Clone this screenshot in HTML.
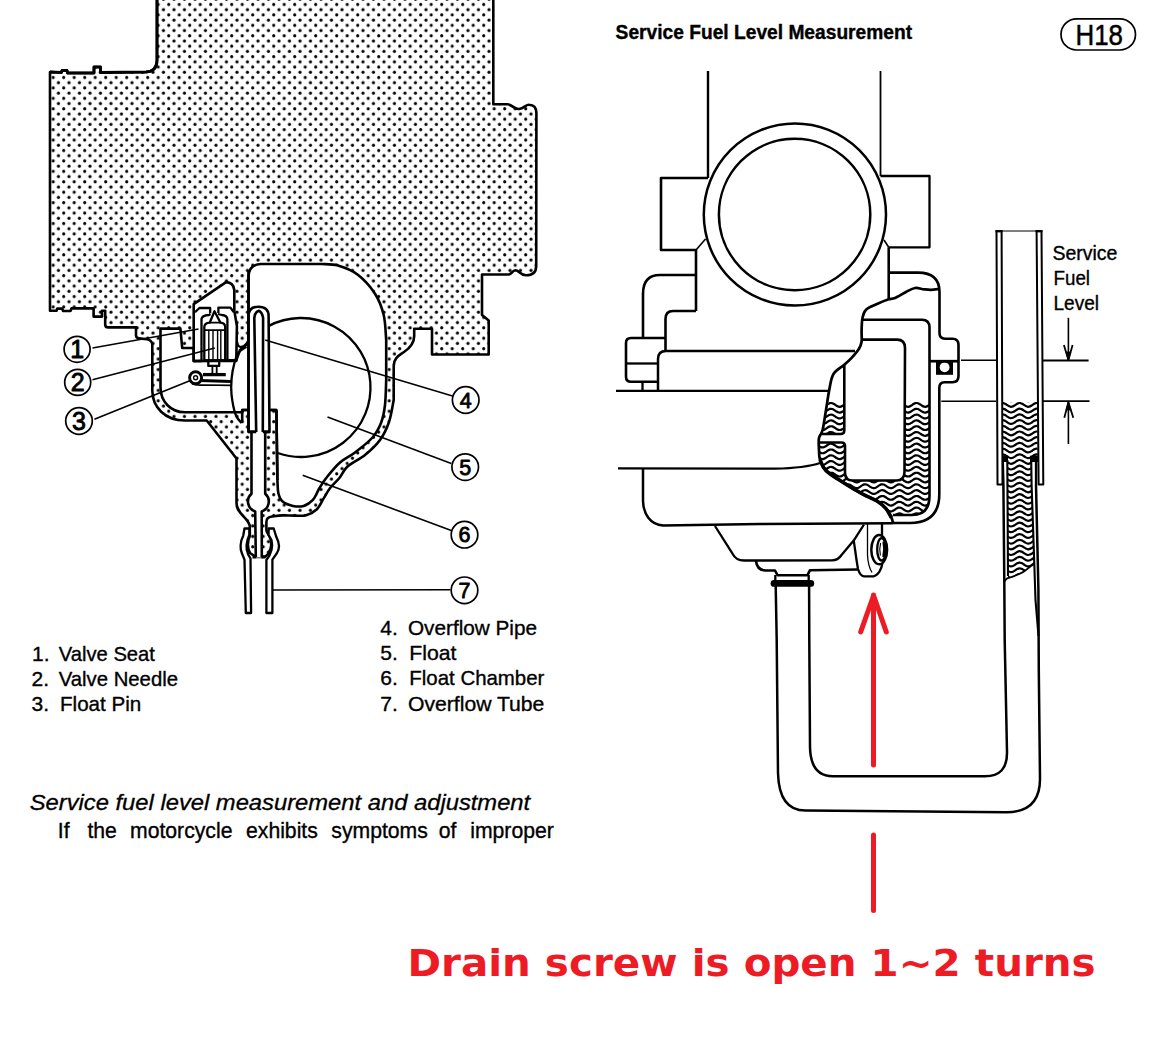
<!DOCTYPE html>
<html><head><meta charset="utf-8"><title>Service Fuel Level Measurement</title>
<style>html,body{margin:0;padding:0;background:#fff;overflow:hidden;}svg{display:block;}text{white-space:pre;}</style>
</head><body>
<svg width="1160" height="1054" viewBox="0 0 1160 1054" stroke-linecap="butt" stroke-linejoin="round">
<defs>
<pattern id="dots" patternUnits="userSpaceOnUse" x="-1.91" y="1.87" width="10.5" height="10.43">
<circle cx="2.62" cy="2.61" r="1.55" fill="#000"/>
<circle cx="7.88" cy="7.82" r="1.55" fill="#000"/>
</pattern>
</defs>
<rect x="0" y="0" width="1160" height="1054" fill="#fff"/>
<g id="leftfig">
<path d="M157,-5 L157,60 Q157,71.5 146,72 L100.5,72.5 L100.5,67 L94,67 L94,73 L67.5,73 L67,70.5 L62,70.5 L61.5,72.5 L50,72 L50,310.8 L56.5,310.8 L57.2,308.6 L62.3,308.6 L63,311 L70.5,311 L71.5,308.4 L93.6,308.4 L93.6,316.6 L102,316.6 L102,310.8 L105.2,310.8 L105.2,324.5 Q105.2,327.4 108,327.4 L136,327.4 L136,335.5 Q136.2,338.3 139,338.4 L147,339.2 Q151.5,340 152.3,344 L152.3,390.6 C152.3,407 165,420.5 185,420.5 L206.7,420.5 L236.5,458.5 L236.5,503 C236.5,514 248,517 249.8,526 L249.8,536 C247,541 247.5,549 250,553 L256,557 L262,557 L265.5,556.5 C270,553 272.5,546 270.5,539 C269,534 266.4,533 266.4,530 L266.4,522 Q266.4,517 272,516.5 C273.72,516.32 278.47,515.55 282.3,515.4C286.13,515.25 291.02,515.63 295,515.6C298.98,515.57 302.55,516.27 306.2,515.2C309.85,514.13 314.02,511.97 316.9,509.2C319.78,506.43 321.3,502.13 323.5,498.6C325.7,495.07 327.45,491.43 330.1,488C332.75,484.57 336.5,481.58 339.4,478C342.3,474.42 343.23,470.33 347.5,466.5C351.77,462.67 359.58,459.42 365,455C370.42,450.58 376,445.5 380,440C384,434.5 386.72,428.67 389,422C391.28,415.33 392.92,403.67 393.7,400L393.7,366 C393.7,358 399,355.5 404,352 C410,348 414.2,343 414.2,336 L414.2,328.7 L432,328.7 L432,354.5 L488.7,354.5 L488.7,320.5 L482,315 L482,274.5 L509,274.5 C511,274.5 512.5,270.5 515.5,270.3 C519,270.2 520,275.3 526,275.3 C532,275.3 536.2,273 536.2,266 L536.4,113 Q536.4,105 529,104.8 C526,104.5 524,108.5 519,109 C514,109.5 512,104.3 507.5,104.3 L493.3,104.3 L493.3,-5 Z" fill="url(#dots)" stroke="#000" stroke-width="2.6" />
<path d="M157,-5 L157,60 Q157,71.5 146,72 L100.5,72.5 L100.5,67 L94,67 L94,73 L67.5,73 L67,70.5 L62,70.5 L61.5,72.5 L50,72" fill="none" stroke="#000" stroke-width="2.9" />
<path d="M248.5,277 Q248.5,264.5 261,264 L322,264 C324.67,264.25 332.08,263.75 338,265.5C343.92,267.25 351.33,269.8 357.5,274.5C363.67,279.2 370.63,286.95 375,293.7C379.37,300.45 381.83,307.28 383.7,315C385.57,322.72 385.78,335.83 386.2,340L386.2,380 C386,384.17 385.83,397.92 385,405C384.17,412.08 383.28,417.08 381.2,422.5C379.12,427.92 376.87,432.5 372.5,437.5C368.13,442.5 360.42,448.33 355,452.5C349.58,456.67 344.67,458.42 340,462.5C335.33,466.58 330.42,472.75 327,477C323.58,481.25 321.85,484.18 319.5,488C317.15,491.82 315.55,496.92 312.9,499.9C310.25,502.88 306.92,504.9 303.6,505.9C300.28,506.9 296.55,506.68 293,505.9C289.45,505.12 284.73,503.3 282.3,501.2C279.87,499.1 279.22,496.83 278.4,493.3C277.58,489.77 277.57,482.22 277.4,480L276.4,410 L242.2,410 L242.2,412.3 L185,412.3 C171,412.3 160.5,402 160.5,387 L160.5,328.6 L180.4,328.6 L182.2,348 L193.7,348 L193.7,361 L236,361 L240,350 L248.5,343 Z" fill="#fff" stroke="#000" stroke-width="2.6" />
<path d="M236.3,340 C236.5,346 240,348.5 244,346 C247,344 248.5,341 248.5,338" fill="none" stroke="#000" stroke-width="2.3" />
<path d="M193.7,361 L193.7,304.1 L226.1,282.1 Q233.5,282.5 234.3,290 L234.3,310.6 L236.9,326 L236.3,360.4 Z" fill="#fff" stroke="#000" stroke-width="2.6" />
<path d="M268.4,326.12 A69.5,69.5 0 1 1 277.76,453" fill="none" stroke="#000" stroke-width="2.3" />
<path d="M246.4,346.9C245.1,347.85 240.6,349.92 238.6,352.6C236.6,355.28 235.57,358.65 234.4,363C233.23,367.35 232.08,373.47 231.6,378.7C231.12,383.93 230.85,388.47 231.5,394.4C232.15,400.33 233.83,409.53 235.5,414.3C237.17,419.07 240.5,421.55 241.5,423" fill="none" stroke="#000" stroke-width="2.3" />
<path d="M195,312.3 L199.4,308 L210.2,308 L210.2,313.2 M218.4,313 L218.4,307.6 L230.4,307.6 L233.9,312.3" fill="none" stroke="#000" stroke-width="2.3" />
<path d="M201.5,361 L201.5,319 Q202,315.5 208.9,315 L210.5,314 M218,314 L221.8,315 Q227,315.5 227.4,319 L227.4,361" fill="none" stroke="#000" stroke-width="2.3" />
<path d="M193.7,361 L201.5,361 M227.4,360.4 L236.3,360.4" fill="none" stroke="#000" stroke-width="2.6" />
<path d="M204.3,360.4 L204.3,327 Q204.5,323 209.7,322.7 L214.5,311.3 L220.5,322.7 Q225,323 225.2,327 L225.2,360.4 Z" fill="#fff" stroke="#000" stroke-width="2.3" />
<path d="M209.7,322.7 L220.5,322.7 M205,330.2 L224.5,330.2" fill="none" stroke="#000" stroke-width="1.8" />
<line x1="208.8" y1="331" x2="208.8" y2="360" stroke="#000" stroke-width="1.4" />
<line x1="213" y1="331" x2="213" y2="360" stroke="#000" stroke-width="1.4" />
<line x1="217.6" y1="331" x2="217.6" y2="360" stroke="#000" stroke-width="1.4" />
<line x1="220.8" y1="331" x2="220.8" y2="360" stroke="#000" stroke-width="1.4" />
<path d="M208.3,360.4 L208.3,365.9 L219.2,365.9 L219.2,360.4 M204.5,360.4 L224.8,360.4" fill="none" stroke="#000" stroke-width="2.3" />
<path d="M212.4,366 L212.4,373 M216.7,366 L216.7,373" fill="none" stroke="#000" stroke-width="1.8" />
<path d="M203,374.6 L225.8,374.6" fill="none" stroke="#000" stroke-width="3.3" />
<circle cx="195.6" cy="377.8" r="6" fill="#fff" stroke="#000" stroke-width="2.9"/>
<circle cx="195.6" cy="377.8" r="2" fill="none" stroke="#000" stroke-width="1.4"/>
<path d="M200.5,380.4 L231,381.4" fill="none" stroke="#000" stroke-width="3" />
<path d="M192,383.8 Q196,385.6 203,385 L231.5,385.4" fill="none" stroke="#000" stroke-width="1.7" />
<rect x="254.5" y="405" width="9" height="28" fill="#fff"/>
<path d="M248.5,431.9 L248.5,316 Q248.5,306.7 258.4,306.7 Q268.6,306.7 268.6,316 L269.5,431.9 L262.8,431.9 L263.1,318 Q262,312 258.7,310.8 Q255,312 254.3,318 L256.2,431.9 Z" fill="#fff" stroke="#000" stroke-width="2.6" />
<line x1="248.5" y1="270" x2="248.5" y2="432" stroke="#000" stroke-width="2.6" />
<path d="M242.2,422.5 L242.2,410 L248.5,410 M269.5,410 L276.4,410" fill="none" stroke="#000" stroke-width="2.6" />
<path d="M251.5,431.9 L251.5,493.7 A10.4,10.4 0 0 0 255.2,511.4 L255.8,557.5 L261.8,557.5 L261.7,511.4 A10.4,10.4 0 0 0 265.2,493.7 L265.2,431.9 Z" fill="#fff" stroke="none" stroke-width="0" />
<path d="M251.5,431.9 L251.5,493.7 A10.4,10.4 0 0 0 255.2,511.4 L255.8,557" fill="none" stroke="#000" stroke-width="2.6" />
<path d="M265.2,431.9 L265.2,493.7 A10.4,10.4 0 0 1 261.7,511.4 L261.8,557" fill="none" stroke="#000" stroke-width="2.6" />
<path d="M252.5,557 L256.2,557 M261.4,557 L265.5,557" fill="none" stroke="#000" stroke-width="3" />
<path d="M248.5,431.9 L256.2,431.9 M262.8,431.9 L269.5,431.9" fill="none" stroke="#000" stroke-width="2.6" />
<path d="M276.4,410 L277.4,480" fill="none" stroke="#000" stroke-width="2.6" />
<path d="M249.3,528.5 L244.5,528.5 L243.2,535.8 C240,542 240,549 241.8,553 L244.5,559.7 L245.8,613 L251.1,613 L250.5,558.4 C246,552 246,545 247.5,540 L249.3,535 Z" fill="#fff" stroke="#000" stroke-width="2.3" />
<path d="M268.6,528.5 L273.7,528.5 L276.4,537.1 C279.5,543 279.5,549 277,553 L272.4,559.7 L272.4,613 L266.4,613 L266.4,560 C272,553 273,546 271.5,540 L268.6,535 Z" fill="#fff" stroke="#000" stroke-width="2.3" />
<line x1="92.5" y1="348" x2="198.5" y2="329" stroke="#000" stroke-width="1.6" />
<line x1="92.5" y1="379.7" x2="214.8" y2="348" stroke="#000" stroke-width="1.6" />
<line x1="94.4" y1="419.2" x2="190.4" y2="380.6" stroke="#000" stroke-width="1.6" />
<line x1="265.2" y1="340" x2="452.5" y2="396" stroke="#000" stroke-width="1.6" />
<line x1="327.5" y1="417" x2="451.3" y2="463.5" stroke="#000" stroke-width="1.6" />
<line x1="302.7" y1="475.3" x2="451.3" y2="530.5" stroke="#000" stroke-width="1.6" />
<line x1="273" y1="590" x2="450.4" y2="589.8" stroke="#000" stroke-width="1.6" />
<circle cx="77.1" cy="349.3" r="13" fill="#fff" stroke="#000" stroke-width="1.7"/>
<text x="77.1" y="358.25" font-family="'Liberation Sans', sans-serif" font-size="25" font-weight="normal" font-style="normal" fill="#000" text-anchor="middle" stroke="#000" stroke-width="0.9">1</text>
<circle cx="77.7" cy="382.4" r="13" fill="#fff" stroke="#000" stroke-width="1.7"/>
<text x="77.7" y="391.35" font-family="'Liberation Sans', sans-serif" font-size="25" font-weight="normal" font-style="normal" fill="#000" text-anchor="middle" stroke="#000" stroke-width="0.9">2</text>
<circle cx="79" cy="421" r="13.3" fill="#fff" stroke="#000" stroke-width="1.7"/>
<text x="79" y="429.95" font-family="'Liberation Sans', sans-serif" font-size="25" font-weight="normal" font-style="normal" fill="#000" text-anchor="middle" stroke="#000" stroke-width="0.9">3</text>
<circle cx="465.7" cy="400" r="13.3" fill="#fff" stroke="#000" stroke-width="1.7"/>
<text x="465.7" y="407.7" font-family="'Liberation Sans', sans-serif" font-size="21.5" font-weight="normal" font-style="normal" fill="#000" text-anchor="middle" stroke="#000" stroke-width="0.8">4</text>
<circle cx="465.2" cy="467.1" r="13.3" fill="#fff" stroke="#000" stroke-width="1.7"/>
<text x="465.2" y="474.8" font-family="'Liberation Sans', sans-serif" font-size="21.5" font-weight="normal" font-style="normal" fill="#000" text-anchor="middle" stroke="#000" stroke-width="0.8">5</text>
<circle cx="464.5" cy="534.7" r="13.3" fill="#fff" stroke="#000" stroke-width="1.7"/>
<text x="464.5" y="542.4" font-family="'Liberation Sans', sans-serif" font-size="21.5" font-weight="normal" font-style="normal" fill="#000" text-anchor="middle" stroke="#000" stroke-width="0.8">6</text>
<circle cx="464.5" cy="590.3" r="13.3" fill="#fff" stroke="#000" stroke-width="1.7"/>
<text x="464.5" y="598" font-family="'Liberation Sans', sans-serif" font-size="21.5" font-weight="normal" font-style="normal" fill="#000" text-anchor="middle" stroke="#000" stroke-width="0.8">7</text>
</g>
<g id="rightfig">
<line x1="708" y1="71" x2="708" y2="178" stroke="#000" stroke-width="2.4" />
<line x1="880.5" y1="71" x2="880.5" y2="176" stroke="#000" stroke-width="1.8" />
<path d="M708,178 L661,178 L661,250 L696,250 L696,311" fill="none" stroke="#000" stroke-width="2.6" />
<path d="M696,250 L705.5,239" fill="none" stroke="#000" stroke-width="1.6" />
<path d="M880.5,176 L929.5,176 L929.5,247.3 L888.7,247.3" fill="none" stroke="#000" stroke-width="2.3" />
<path d="M888.7,247.3 L884,240" fill="none" stroke="#000" stroke-width="1.6" />
<circle cx="794.9" cy="214.5" r="91.1" fill="none" stroke="#000" stroke-width="2.5"/>
<circle cx="794.6" cy="214.5" r="75.7" fill="none" stroke="#000" stroke-width="2.5"/>
<path d="M696,275 L660,275 Q643,275 643,294 L643,338" fill="none" stroke="#000" stroke-width="2.6" />
<path d="M696,311 L673,311 Q665.5,311 665.5,319 L665.5,351" fill="none" stroke="#000" stroke-width="2.6" />
<path d="M665,338 L631,338 Q626,338 626,343 L626,376.7 Q626,381.7 631,381.7 L658,381.7" fill="none" stroke="#000" stroke-width="2.6" />
<line x1="626" y1="363.5" x2="658" y2="363.5" stroke="#000" stroke-width="2.3" />
<path d="M855,351 L666,351 Q658,351 658,359 L658,390.5" fill="none" stroke="#000" stroke-width="2.5" />
<line x1="616" y1="390.9" x2="828" y2="390.9" stroke="#000" stroke-width="2.3" />
<line x1="642.5" y1="381" x2="642.5" y2="390.5" stroke="#000" stroke-width="2.3" />
<path d="M888.7,247.3 L888.7,299" fill="none" stroke="#000" stroke-width="2.6" />
<path d="M888.7,272.6 L918,272.6 Q939.5,272.6 939.5,292 L939.5,333 Q939.5,338.7 945,338.7 L952.5,338.7 Q958.5,338.7 958.5,345 L958.5,376 Q958.5,382.2 952.5,382.2 L944.5,382.2 Q939.3,382.2 939.3,388 L939.3,494 Q939.3,523 910,523 L893,523" fill="none" stroke="#000" stroke-width="2.6" />
<path d="M862,319.7 L922,319.7 Q929.5,319.7 929.5,327.5 L929.5,496 Q929.5,515 912,515 L893,515" fill="none" stroke="#000" stroke-width="2.6" />
<path d="M862,339.6 L897,339.6 Q905,339.6 905,348 L904.5,472 Q904.5,480.5 896.5,480.5 L853,480.5 Q845,480.5 845,472.4 L845,446 Q845,442.5 841.5,442.5 L820,442.5" fill="none" stroke="#000" stroke-width="2.6" />
<path d="M820,434 L840.5,434 Q844.3,434 844.3,430.5 L844.3,365" fill="none" stroke="#000" stroke-width="2.6" />
<clipPath id="cfl"><path d="M828.5,402 L844.3,402 L844.3,434 L819,434 L819,442.5 L845,442.5 L845,472 Q845,480.5 853,480.5 L896.5,480.5 Q904.5,480.5 904.5,472 L904.7,402 L929.5,402 L929.5,496 Q929.5,515 912,515 L893,515 L891.4,517.7 L886,508.6 L877,501 L862.5,494 L844,483 L826,470.6 L820,459.7 L819,438 L822.6,430 Z"/></clipPath>
<g clip-path="url(#cfl)" fill="none" stroke="#000" stroke-width="2.2">
<path d="M813,391.48C813.36,391.5 814.43,391.38 815.14,391.57C815.85,391.77 816.56,392.24 817.28,392.66C817.99,393.09 818.7,393.71 819.41,394.11C820.13,394.52 820.84,394.93 821.55,395.08C822.26,395.22 822.98,395.18 823.69,394.99C824.4,394.79 825.11,394.32 825.83,393.9C826.54,393.47 827.25,392.85 827.96,392.45C828.68,392.04 829.39,391.63 830.1,391.48C830.81,391.34 831.53,391.38 832.24,391.57C832.95,391.77 833.66,392.24 834.38,392.66C835.09,393.09 835.8,393.71 836.51,394.11C837.23,394.52 837.94,394.93 838.65,395.08C839.36,395.22 840.08,395.18 840.79,394.99C841.5,394.79 842.21,394.32 842.93,393.9C843.64,393.47 844.35,392.85 845.06,392.45C845.78,392.04 846.49,391.63 847.2,391.48C847.91,391.34 848.63,391.38 849.34,391.57C850.05,391.77 850.76,392.24 851.48,392.66C852.19,393.09 852.9,393.71 853.61,394.11C854.33,394.52 855.04,394.93 855.75,395.08C856.46,395.22 857.18,395.18 857.89,394.99C858.6,394.79 859.31,394.32 860.03,393.9C860.74,393.47 861.45,392.85 862.16,392.45C862.88,392.04 863.59,391.63 864.3,391.48C865.01,391.34 865.73,391.38 866.44,391.57C867.15,391.77 867.86,392.24 868.58,392.66C869.29,393.09 870,393.71 870.71,394.11C871.43,394.52 872.14,394.93 872.85,395.08C873.56,395.22 874.28,395.18 874.99,394.99C875.7,394.79 876.41,394.32 877.13,393.9C877.84,393.47 878.55,392.85 879.26,392.45C879.98,392.04 880.69,391.63 881.4,391.48C882.11,391.34 882.83,391.38 883.54,391.57C884.25,391.77 884.96,392.24 885.68,392.66C886.39,393.09 887.1,393.71 887.81,394.11C888.53,394.52 889.24,394.93 889.95,395.08C890.66,395.22 891.38,395.18 892.09,394.99C892.8,394.79 893.51,394.32 894.23,393.9C894.94,393.47 895.65,392.85 896.36,392.45C897.08,392.04 897.79,391.63 898.5,391.48C899.21,391.34 899.93,391.38 900.64,391.57C901.35,391.77 902.06,392.24 902.78,392.66C903.49,393.09 904.2,393.71 904.91,394.11C905.63,394.52 906.34,394.93 907.05,395.08C907.76,395.22 908.48,395.18 909.19,394.99C909.9,394.79 910.61,394.32 911.33,393.9C912.04,393.47 912.75,392.85 913.46,392.45C914.18,392.04 914.89,391.63 915.6,391.48C916.31,391.34 917.03,391.38 917.74,391.57C918.45,391.77 919.16,392.24 919.88,392.66C920.59,393.09 921.3,393.71 922.01,394.11C922.73,394.52 923.44,394.93 924.15,395.08C924.86,395.22 925.58,395.18 926.29,394.99C927,394.79 927.71,394.32 928.43,393.9C929.14,393.47 929.85,392.85 930.56,392.45C931.28,392.04 932.34,391.64 932.7,391.48"/>
<path d="M813,397.29C813.36,397.31 814.43,397.19 815.14,397.38C815.85,397.58 816.56,398.05 817.28,398.47C817.99,398.9 818.7,399.52 819.41,399.92C820.13,400.33 820.84,400.74 821.55,400.89C822.26,401.03 822.98,400.99 823.69,400.8C824.4,400.6 825.11,400.13 825.83,399.71C826.54,399.28 827.25,398.66 827.96,398.26C828.68,397.85 829.39,397.44 830.1,397.29C830.81,397.15 831.53,397.19 832.24,397.38C832.95,397.58 833.66,398.05 834.38,398.47C835.09,398.9 835.8,399.52 836.51,399.92C837.23,400.33 837.94,400.74 838.65,400.89C839.36,401.03 840.08,400.99 840.79,400.8C841.5,400.6 842.21,400.13 842.93,399.71C843.64,399.28 844.35,398.66 845.06,398.26C845.78,397.85 846.49,397.44 847.2,397.29C847.91,397.15 848.63,397.19 849.34,397.38C850.05,397.58 850.76,398.05 851.48,398.47C852.19,398.9 852.9,399.52 853.61,399.92C854.33,400.33 855.04,400.74 855.75,400.89C856.46,401.03 857.18,400.99 857.89,400.8C858.6,400.6 859.31,400.13 860.03,399.71C860.74,399.28 861.45,398.66 862.16,398.26C862.88,397.85 863.59,397.44 864.3,397.29C865.01,397.15 865.73,397.19 866.44,397.38C867.15,397.58 867.86,398.05 868.58,398.47C869.29,398.9 870,399.52 870.71,399.92C871.43,400.33 872.14,400.74 872.85,400.89C873.56,401.03 874.28,400.99 874.99,400.8C875.7,400.6 876.41,400.13 877.13,399.71C877.84,399.28 878.55,398.66 879.26,398.26C879.98,397.85 880.69,397.44 881.4,397.29C882.11,397.15 882.83,397.19 883.54,397.38C884.25,397.58 884.96,398.05 885.68,398.47C886.39,398.9 887.1,399.52 887.81,399.92C888.53,400.33 889.24,400.74 889.95,400.89C890.66,401.03 891.38,400.99 892.09,400.8C892.8,400.6 893.51,400.13 894.23,399.71C894.94,399.28 895.65,398.66 896.36,398.26C897.08,397.85 897.79,397.44 898.5,397.29C899.21,397.15 899.93,397.19 900.64,397.38C901.35,397.58 902.06,398.05 902.78,398.47C903.49,398.9 904.2,399.52 904.91,399.92C905.63,400.33 906.34,400.74 907.05,400.89C907.76,401.03 908.48,400.99 909.19,400.8C909.9,400.6 910.61,400.13 911.33,399.71C912.04,399.28 912.75,398.66 913.46,398.26C914.18,397.85 914.89,397.44 915.6,397.29C916.31,397.15 917.03,397.19 917.74,397.38C918.45,397.58 919.16,398.05 919.88,398.47C920.59,398.9 921.3,399.52 922.01,399.92C922.73,400.33 923.44,400.74 924.15,400.89C924.86,401.03 925.58,400.99 926.29,400.8C927,400.6 927.71,400.13 928.43,399.71C929.14,399.28 929.85,398.66 930.56,398.26C931.28,397.85 932.34,397.45 932.7,397.29"/>
<path d="M813,403.1C813.36,403.12 814.43,403 815.14,403.19C815.85,403.39 816.56,403.86 817.28,404.28C817.99,404.71 818.7,405.33 819.41,405.73C820.13,406.14 820.84,406.55 821.55,406.7C822.26,406.84 822.98,406.8 823.69,406.61C824.4,406.41 825.11,405.94 825.83,405.52C826.54,405.09 827.25,404.47 827.96,404.07C828.68,403.66 829.39,403.25 830.1,403.1C830.81,402.96 831.53,403 832.24,403.19C832.95,403.39 833.66,403.86 834.38,404.28C835.09,404.71 835.8,405.33 836.51,405.73C837.23,406.14 837.94,406.55 838.65,406.7C839.36,406.84 840.08,406.8 840.79,406.61C841.5,406.41 842.21,405.94 842.93,405.52C843.64,405.09 844.35,404.47 845.06,404.07C845.78,403.66 846.49,403.25 847.2,403.1C847.91,402.96 848.63,403 849.34,403.19C850.05,403.39 850.76,403.86 851.48,404.28C852.19,404.71 852.9,405.33 853.61,405.73C854.33,406.14 855.04,406.55 855.75,406.7C856.46,406.84 857.18,406.8 857.89,406.61C858.6,406.41 859.31,405.94 860.03,405.52C860.74,405.09 861.45,404.47 862.16,404.07C862.88,403.66 863.59,403.25 864.3,403.1C865.01,402.96 865.73,403 866.44,403.19C867.15,403.39 867.86,403.86 868.58,404.28C869.29,404.71 870,405.33 870.71,405.73C871.43,406.14 872.14,406.55 872.85,406.7C873.56,406.84 874.28,406.8 874.99,406.61C875.7,406.41 876.41,405.94 877.13,405.52C877.84,405.09 878.55,404.47 879.26,404.07C879.98,403.66 880.69,403.25 881.4,403.1C882.11,402.96 882.83,403 883.54,403.19C884.25,403.39 884.96,403.86 885.68,404.28C886.39,404.71 887.1,405.33 887.81,405.73C888.53,406.14 889.24,406.55 889.95,406.7C890.66,406.84 891.38,406.8 892.09,406.61C892.8,406.41 893.51,405.94 894.23,405.52C894.94,405.09 895.65,404.47 896.36,404.07C897.08,403.66 897.79,403.25 898.5,403.1C899.21,402.96 899.93,403 900.64,403.19C901.35,403.39 902.06,403.86 902.78,404.28C903.49,404.71 904.2,405.33 904.91,405.73C905.63,406.14 906.34,406.55 907.05,406.7C907.76,406.84 908.48,406.8 909.19,406.61C909.9,406.41 910.61,405.94 911.33,405.52C912.04,405.09 912.75,404.47 913.46,404.07C914.18,403.66 914.89,403.25 915.6,403.1C916.31,402.96 917.03,403 917.74,403.19C918.45,403.39 919.16,403.86 919.88,404.28C920.59,404.71 921.3,405.33 922.01,405.73C922.73,406.14 923.44,406.55 924.15,406.7C924.86,406.84 925.58,406.8 926.29,406.61C927,406.41 927.71,405.94 928.43,405.52C929.14,405.09 929.85,404.47 930.56,404.07C931.28,403.66 932.34,403.26 932.7,403.1"/>
<path d="M813,408.91C813.36,408.93 814.43,408.81 815.14,409C815.85,409.2 816.56,409.67 817.28,410.09C817.99,410.52 818.7,411.14 819.41,411.54C820.13,411.95 820.84,412.36 821.55,412.51C822.26,412.65 822.98,412.61 823.69,412.42C824.4,412.22 825.11,411.75 825.83,411.33C826.54,410.9 827.25,410.28 827.96,409.88C828.68,409.47 829.39,409.06 830.1,408.91C830.81,408.77 831.53,408.81 832.24,409C832.95,409.2 833.66,409.67 834.38,410.09C835.09,410.52 835.8,411.14 836.51,411.54C837.23,411.95 837.94,412.36 838.65,412.51C839.36,412.65 840.08,412.61 840.79,412.42C841.5,412.22 842.21,411.75 842.93,411.33C843.64,410.9 844.35,410.28 845.06,409.88C845.78,409.47 846.49,409.06 847.2,408.91C847.91,408.77 848.63,408.81 849.34,409C850.05,409.2 850.76,409.67 851.48,410.09C852.19,410.52 852.9,411.14 853.61,411.54C854.33,411.95 855.04,412.36 855.75,412.51C856.46,412.65 857.18,412.61 857.89,412.42C858.6,412.22 859.31,411.75 860.03,411.33C860.74,410.9 861.45,410.28 862.16,409.88C862.88,409.47 863.59,409.06 864.3,408.91C865.01,408.77 865.73,408.81 866.44,409C867.15,409.2 867.86,409.67 868.58,410.09C869.29,410.52 870,411.14 870.71,411.54C871.43,411.95 872.14,412.36 872.85,412.51C873.56,412.65 874.28,412.61 874.99,412.42C875.7,412.22 876.41,411.75 877.13,411.33C877.84,410.9 878.55,410.28 879.26,409.88C879.98,409.47 880.69,409.06 881.4,408.91C882.11,408.77 882.83,408.81 883.54,409C884.25,409.2 884.96,409.67 885.68,410.09C886.39,410.52 887.1,411.14 887.81,411.54C888.53,411.95 889.24,412.36 889.95,412.51C890.66,412.65 891.38,412.61 892.09,412.42C892.8,412.22 893.51,411.75 894.23,411.33C894.94,410.9 895.65,410.28 896.36,409.88C897.08,409.47 897.79,409.06 898.5,408.91C899.21,408.77 899.93,408.81 900.64,409C901.35,409.2 902.06,409.67 902.78,410.09C903.49,410.52 904.2,411.14 904.91,411.54C905.63,411.95 906.34,412.36 907.05,412.51C907.76,412.65 908.48,412.61 909.19,412.42C909.9,412.22 910.61,411.75 911.33,411.33C912.04,410.9 912.75,410.28 913.46,409.88C914.18,409.47 914.89,409.06 915.6,408.91C916.31,408.77 917.03,408.81 917.74,409C918.45,409.2 919.16,409.67 919.88,410.09C920.59,410.52 921.3,411.14 922.01,411.54C922.73,411.95 923.44,412.36 924.15,412.51C924.86,412.65 925.58,412.61 926.29,412.42C927,412.22 927.71,411.75 928.43,411.33C929.14,410.9 929.85,410.28 930.56,409.88C931.28,409.47 932.34,409.07 932.7,408.91"/>
<path d="M813,414.72C813.36,414.74 814.43,414.62 815.14,414.81C815.85,415.01 816.56,415.48 817.28,415.9C817.99,416.33 818.7,416.95 819.41,417.35C820.13,417.76 820.84,418.17 821.55,418.32C822.26,418.46 822.98,418.42 823.69,418.23C824.4,418.03 825.11,417.56 825.83,417.14C826.54,416.71 827.25,416.09 827.96,415.69C828.68,415.28 829.39,414.87 830.1,414.72C830.81,414.58 831.53,414.62 832.24,414.81C832.95,415.01 833.66,415.48 834.38,415.9C835.09,416.33 835.8,416.95 836.51,417.35C837.23,417.76 837.94,418.17 838.65,418.32C839.36,418.46 840.08,418.42 840.79,418.23C841.5,418.03 842.21,417.56 842.93,417.14C843.64,416.71 844.35,416.09 845.06,415.69C845.78,415.28 846.49,414.87 847.2,414.72C847.91,414.58 848.63,414.62 849.34,414.81C850.05,415.01 850.76,415.48 851.48,415.9C852.19,416.33 852.9,416.95 853.61,417.35C854.33,417.76 855.04,418.17 855.75,418.32C856.46,418.46 857.18,418.42 857.89,418.23C858.6,418.03 859.31,417.56 860.03,417.14C860.74,416.71 861.45,416.09 862.16,415.69C862.88,415.28 863.59,414.87 864.3,414.72C865.01,414.58 865.73,414.62 866.44,414.81C867.15,415.01 867.86,415.48 868.58,415.9C869.29,416.33 870,416.95 870.71,417.35C871.43,417.76 872.14,418.17 872.85,418.32C873.56,418.46 874.28,418.42 874.99,418.23C875.7,418.03 876.41,417.56 877.13,417.14C877.84,416.71 878.55,416.09 879.26,415.69C879.98,415.28 880.69,414.87 881.4,414.72C882.11,414.58 882.83,414.62 883.54,414.81C884.25,415.01 884.96,415.48 885.68,415.9C886.39,416.33 887.1,416.95 887.81,417.35C888.53,417.76 889.24,418.17 889.95,418.32C890.66,418.46 891.38,418.42 892.09,418.23C892.8,418.03 893.51,417.56 894.23,417.14C894.94,416.71 895.65,416.09 896.36,415.69C897.08,415.28 897.79,414.87 898.5,414.72C899.21,414.58 899.93,414.62 900.64,414.81C901.35,415.01 902.06,415.48 902.78,415.9C903.49,416.33 904.2,416.95 904.91,417.35C905.63,417.76 906.34,418.17 907.05,418.32C907.76,418.46 908.48,418.42 909.19,418.23C909.9,418.03 910.61,417.56 911.33,417.14C912.04,416.71 912.75,416.09 913.46,415.69C914.18,415.28 914.89,414.87 915.6,414.72C916.31,414.58 917.03,414.62 917.74,414.81C918.45,415.01 919.16,415.48 919.88,415.9C920.59,416.33 921.3,416.95 922.01,417.35C922.73,417.76 923.44,418.17 924.15,418.32C924.86,418.46 925.58,418.42 926.29,418.23C927,418.03 927.71,417.56 928.43,417.14C929.14,416.71 929.85,416.09 930.56,415.69C931.28,415.28 932.34,414.88 932.7,414.72"/>
<path d="M813,420.53C813.36,420.55 814.43,420.43 815.14,420.62C815.85,420.82 816.56,421.29 817.28,421.71C817.99,422.14 818.7,422.76 819.41,423.16C820.13,423.57 820.84,423.98 821.55,424.13C822.26,424.27 822.98,424.23 823.69,424.04C824.4,423.84 825.11,423.37 825.83,422.95C826.54,422.52 827.25,421.9 827.96,421.5C828.68,421.09 829.39,420.68 830.1,420.53C830.81,420.39 831.53,420.43 832.24,420.62C832.95,420.82 833.66,421.29 834.38,421.71C835.09,422.14 835.8,422.76 836.51,423.16C837.23,423.57 837.94,423.98 838.65,424.13C839.36,424.27 840.08,424.23 840.79,424.04C841.5,423.84 842.21,423.37 842.93,422.95C843.64,422.52 844.35,421.9 845.06,421.5C845.78,421.09 846.49,420.68 847.2,420.53C847.91,420.39 848.63,420.43 849.34,420.62C850.05,420.82 850.76,421.29 851.48,421.71C852.19,422.14 852.9,422.76 853.61,423.16C854.33,423.57 855.04,423.98 855.75,424.13C856.46,424.27 857.18,424.23 857.89,424.04C858.6,423.84 859.31,423.37 860.03,422.95C860.74,422.52 861.45,421.9 862.16,421.5C862.88,421.09 863.59,420.68 864.3,420.53C865.01,420.39 865.73,420.43 866.44,420.62C867.15,420.82 867.86,421.29 868.58,421.71C869.29,422.14 870,422.76 870.71,423.16C871.43,423.57 872.14,423.98 872.85,424.13C873.56,424.27 874.28,424.23 874.99,424.04C875.7,423.84 876.41,423.37 877.13,422.95C877.84,422.52 878.55,421.9 879.26,421.5C879.98,421.09 880.69,420.68 881.4,420.53C882.11,420.39 882.83,420.43 883.54,420.62C884.25,420.82 884.96,421.29 885.68,421.71C886.39,422.14 887.1,422.76 887.81,423.16C888.53,423.57 889.24,423.98 889.95,424.13C890.66,424.27 891.38,424.23 892.09,424.04C892.8,423.84 893.51,423.37 894.23,422.95C894.94,422.52 895.65,421.9 896.36,421.5C897.08,421.09 897.79,420.68 898.5,420.53C899.21,420.39 899.93,420.43 900.64,420.62C901.35,420.82 902.06,421.29 902.78,421.71C903.49,422.14 904.2,422.76 904.91,423.16C905.63,423.57 906.34,423.98 907.05,424.13C907.76,424.27 908.48,424.23 909.19,424.04C909.9,423.84 910.61,423.37 911.33,422.95C912.04,422.52 912.75,421.9 913.46,421.5C914.18,421.09 914.89,420.68 915.6,420.53C916.31,420.39 917.03,420.43 917.74,420.62C918.45,420.82 919.16,421.29 919.88,421.71C920.59,422.14 921.3,422.76 922.01,423.16C922.73,423.57 923.44,423.98 924.15,424.13C924.86,424.27 925.58,424.23 926.29,424.04C927,423.84 927.71,423.37 928.43,422.95C929.14,422.52 929.85,421.9 930.56,421.5C931.28,421.09 932.34,420.69 932.7,420.53"/>
<path d="M813,426.34C813.36,426.36 814.43,426.24 815.14,426.43C815.85,426.63 816.56,427.1 817.28,427.52C817.99,427.95 818.7,428.57 819.41,428.97C820.13,429.38 820.84,429.79 821.55,429.94C822.26,430.08 822.98,430.04 823.69,429.85C824.4,429.65 825.11,429.18 825.83,428.76C826.54,428.33 827.25,427.71 827.96,427.31C828.68,426.9 829.39,426.49 830.1,426.34C830.81,426.2 831.53,426.24 832.24,426.43C832.95,426.63 833.66,427.1 834.38,427.52C835.09,427.95 835.8,428.57 836.51,428.97C837.23,429.38 837.94,429.79 838.65,429.94C839.36,430.08 840.08,430.04 840.79,429.85C841.5,429.65 842.21,429.18 842.93,428.76C843.64,428.33 844.35,427.71 845.06,427.31C845.78,426.9 846.49,426.49 847.2,426.34C847.91,426.2 848.63,426.24 849.34,426.43C850.05,426.63 850.76,427.1 851.48,427.52C852.19,427.95 852.9,428.57 853.61,428.97C854.33,429.38 855.04,429.79 855.75,429.94C856.46,430.08 857.18,430.04 857.89,429.85C858.6,429.65 859.31,429.18 860.03,428.76C860.74,428.33 861.45,427.71 862.16,427.31C862.88,426.9 863.59,426.49 864.3,426.34C865.01,426.2 865.73,426.24 866.44,426.43C867.15,426.63 867.86,427.1 868.58,427.52C869.29,427.95 870,428.57 870.71,428.97C871.43,429.38 872.14,429.79 872.85,429.94C873.56,430.08 874.28,430.04 874.99,429.85C875.7,429.65 876.41,429.18 877.13,428.76C877.84,428.33 878.55,427.71 879.26,427.31C879.98,426.9 880.69,426.49 881.4,426.34C882.11,426.2 882.83,426.24 883.54,426.43C884.25,426.63 884.96,427.1 885.68,427.52C886.39,427.95 887.1,428.57 887.81,428.97C888.53,429.38 889.24,429.79 889.95,429.94C890.66,430.08 891.38,430.04 892.09,429.85C892.8,429.65 893.51,429.18 894.23,428.76C894.94,428.33 895.65,427.71 896.36,427.31C897.08,426.9 897.79,426.49 898.5,426.34C899.21,426.2 899.93,426.24 900.64,426.43C901.35,426.63 902.06,427.1 902.78,427.52C903.49,427.95 904.2,428.57 904.91,428.97C905.63,429.38 906.34,429.79 907.05,429.94C907.76,430.08 908.48,430.04 909.19,429.85C909.9,429.65 910.61,429.18 911.33,428.76C912.04,428.33 912.75,427.71 913.46,427.31C914.18,426.9 914.89,426.49 915.6,426.34C916.31,426.2 917.03,426.24 917.74,426.43C918.45,426.63 919.16,427.1 919.88,427.52C920.59,427.95 921.3,428.57 922.01,428.97C922.73,429.38 923.44,429.79 924.15,429.94C924.86,430.08 925.58,430.04 926.29,429.85C927,429.65 927.71,429.18 928.43,428.76C929.14,428.33 929.85,427.71 930.56,427.31C931.28,426.9 932.34,426.5 932.7,426.34"/>
<path d="M813,432.15C813.36,432.17 814.43,432.05 815.14,432.24C815.85,432.44 816.56,432.91 817.28,433.33C817.99,433.76 818.7,434.38 819.41,434.78C820.13,435.19 820.84,435.6 821.55,435.75C822.26,435.89 822.98,435.85 823.69,435.66C824.4,435.46 825.11,434.99 825.83,434.57C826.54,434.14 827.25,433.52 827.96,433.12C828.68,432.71 829.39,432.3 830.1,432.15C830.81,432.01 831.53,432.05 832.24,432.24C832.95,432.44 833.66,432.91 834.38,433.33C835.09,433.76 835.8,434.38 836.51,434.78C837.23,435.19 837.94,435.6 838.65,435.75C839.36,435.89 840.08,435.85 840.79,435.66C841.5,435.46 842.21,434.99 842.93,434.57C843.64,434.14 844.35,433.52 845.06,433.12C845.78,432.71 846.49,432.3 847.2,432.15C847.91,432.01 848.63,432.05 849.34,432.24C850.05,432.44 850.76,432.91 851.48,433.33C852.19,433.76 852.9,434.38 853.61,434.78C854.33,435.19 855.04,435.6 855.75,435.75C856.46,435.89 857.18,435.85 857.89,435.66C858.6,435.46 859.31,434.99 860.03,434.57C860.74,434.14 861.45,433.52 862.16,433.12C862.88,432.71 863.59,432.3 864.3,432.15C865.01,432.01 865.73,432.05 866.44,432.24C867.15,432.44 867.86,432.91 868.58,433.33C869.29,433.76 870,434.38 870.71,434.78C871.43,435.19 872.14,435.6 872.85,435.75C873.56,435.89 874.28,435.85 874.99,435.66C875.7,435.46 876.41,434.99 877.13,434.57C877.84,434.14 878.55,433.52 879.26,433.12C879.98,432.71 880.69,432.3 881.4,432.15C882.11,432.01 882.83,432.05 883.54,432.24C884.25,432.44 884.96,432.91 885.68,433.33C886.39,433.76 887.1,434.38 887.81,434.78C888.53,435.19 889.24,435.6 889.95,435.75C890.66,435.89 891.38,435.85 892.09,435.66C892.8,435.46 893.51,434.99 894.23,434.57C894.94,434.14 895.65,433.52 896.36,433.12C897.08,432.71 897.79,432.3 898.5,432.15C899.21,432.01 899.93,432.05 900.64,432.24C901.35,432.44 902.06,432.91 902.78,433.33C903.49,433.76 904.2,434.38 904.91,434.78C905.63,435.19 906.34,435.6 907.05,435.75C907.76,435.89 908.48,435.85 909.19,435.66C909.9,435.46 910.61,434.99 911.33,434.57C912.04,434.14 912.75,433.52 913.46,433.12C914.18,432.71 914.89,432.3 915.6,432.15C916.31,432.01 917.03,432.05 917.74,432.24C918.45,432.44 919.16,432.91 919.88,433.33C920.59,433.76 921.3,434.38 922.01,434.78C922.73,435.19 923.44,435.6 924.15,435.75C924.86,435.89 925.58,435.85 926.29,435.66C927,435.46 927.71,434.99 928.43,434.57C929.14,434.14 929.85,433.52 930.56,433.12C931.28,432.71 932.34,432.31 932.7,432.15"/>
<path d="M813,437.96C813.36,437.98 814.43,437.86 815.14,438.05C815.85,438.25 816.56,438.72 817.28,439.14C817.99,439.57 818.7,440.19 819.41,440.59C820.13,441 820.84,441.41 821.55,441.56C822.26,441.7 822.98,441.66 823.69,441.47C824.4,441.27 825.11,440.8 825.83,440.38C826.54,439.95 827.25,439.33 827.96,438.93C828.68,438.52 829.39,438.11 830.1,437.96C830.81,437.82 831.53,437.86 832.24,438.05C832.95,438.25 833.66,438.72 834.38,439.14C835.09,439.57 835.8,440.19 836.51,440.59C837.23,441 837.94,441.41 838.65,441.56C839.36,441.7 840.08,441.66 840.79,441.47C841.5,441.27 842.21,440.8 842.93,440.38C843.64,439.95 844.35,439.33 845.06,438.93C845.78,438.52 846.49,438.11 847.2,437.96C847.91,437.82 848.63,437.86 849.34,438.05C850.05,438.25 850.76,438.72 851.48,439.14C852.19,439.57 852.9,440.19 853.61,440.59C854.33,441 855.04,441.41 855.75,441.56C856.46,441.7 857.18,441.66 857.89,441.47C858.6,441.27 859.31,440.8 860.03,440.38C860.74,439.95 861.45,439.33 862.16,438.93C862.88,438.52 863.59,438.11 864.3,437.96C865.01,437.82 865.73,437.86 866.44,438.05C867.15,438.25 867.86,438.72 868.58,439.14C869.29,439.57 870,440.19 870.71,440.59C871.43,441 872.14,441.41 872.85,441.56C873.56,441.7 874.28,441.66 874.99,441.47C875.7,441.27 876.41,440.8 877.13,440.38C877.84,439.95 878.55,439.33 879.26,438.93C879.98,438.52 880.69,438.11 881.4,437.96C882.11,437.82 882.83,437.86 883.54,438.05C884.25,438.25 884.96,438.72 885.68,439.14C886.39,439.57 887.1,440.19 887.81,440.59C888.53,441 889.24,441.41 889.95,441.56C890.66,441.7 891.38,441.66 892.09,441.47C892.8,441.27 893.51,440.8 894.23,440.38C894.94,439.95 895.65,439.33 896.36,438.93C897.08,438.52 897.79,438.11 898.5,437.96C899.21,437.82 899.93,437.86 900.64,438.05C901.35,438.25 902.06,438.72 902.78,439.14C903.49,439.57 904.2,440.19 904.91,440.59C905.63,441 906.34,441.41 907.05,441.56C907.76,441.7 908.48,441.66 909.19,441.47C909.9,441.27 910.61,440.8 911.33,440.38C912.04,439.95 912.75,439.33 913.46,438.93C914.18,438.52 914.89,438.11 915.6,437.96C916.31,437.82 917.03,437.86 917.74,438.05C918.45,438.25 919.16,438.72 919.88,439.14C920.59,439.57 921.3,440.19 922.01,440.59C922.73,441 923.44,441.41 924.15,441.56C924.86,441.7 925.58,441.66 926.29,441.47C927,441.27 927.71,440.8 928.43,440.38C929.14,439.95 929.85,439.33 930.56,438.93C931.28,438.52 932.34,438.12 932.7,437.96"/>
<path d="M813,443.77C813.36,443.79 814.43,443.67 815.14,443.86C815.85,444.06 816.56,444.53 817.28,444.95C817.99,445.38 818.7,446 819.41,446.4C820.13,446.81 820.84,447.22 821.55,447.37C822.26,447.51 822.98,447.47 823.69,447.28C824.4,447.08 825.11,446.61 825.83,446.19C826.54,445.76 827.25,445.14 827.96,444.74C828.68,444.33 829.39,443.92 830.1,443.77C830.81,443.63 831.53,443.67 832.24,443.86C832.95,444.06 833.66,444.53 834.38,444.95C835.09,445.38 835.8,446 836.51,446.4C837.23,446.81 837.94,447.22 838.65,447.37C839.36,447.51 840.08,447.47 840.79,447.28C841.5,447.08 842.21,446.61 842.93,446.19C843.64,445.76 844.35,445.14 845.06,444.74C845.78,444.33 846.49,443.92 847.2,443.77C847.91,443.63 848.63,443.67 849.34,443.86C850.05,444.06 850.76,444.53 851.48,444.95C852.19,445.38 852.9,446 853.61,446.4C854.33,446.81 855.04,447.22 855.75,447.37C856.46,447.51 857.18,447.47 857.89,447.28C858.6,447.08 859.31,446.61 860.03,446.19C860.74,445.76 861.45,445.14 862.16,444.74C862.88,444.33 863.59,443.92 864.3,443.77C865.01,443.63 865.73,443.67 866.44,443.86C867.15,444.06 867.86,444.53 868.58,444.95C869.29,445.38 870,446 870.71,446.4C871.43,446.81 872.14,447.22 872.85,447.37C873.56,447.51 874.28,447.47 874.99,447.28C875.7,447.08 876.41,446.61 877.13,446.19C877.84,445.76 878.55,445.14 879.26,444.74C879.98,444.33 880.69,443.92 881.4,443.77C882.11,443.63 882.83,443.67 883.54,443.86C884.25,444.06 884.96,444.53 885.68,444.95C886.39,445.38 887.1,446 887.81,446.4C888.53,446.81 889.24,447.22 889.95,447.37C890.66,447.51 891.38,447.47 892.09,447.28C892.8,447.08 893.51,446.61 894.23,446.19C894.94,445.76 895.65,445.14 896.36,444.74C897.08,444.33 897.79,443.92 898.5,443.77C899.21,443.63 899.93,443.67 900.64,443.86C901.35,444.06 902.06,444.53 902.78,444.95C903.49,445.38 904.2,446 904.91,446.4C905.63,446.81 906.34,447.22 907.05,447.37C907.76,447.51 908.48,447.47 909.19,447.28C909.9,447.08 910.61,446.61 911.33,446.19C912.04,445.76 912.75,445.14 913.46,444.74C914.18,444.33 914.89,443.92 915.6,443.77C916.31,443.63 917.03,443.67 917.74,443.86C918.45,444.06 919.16,444.53 919.88,444.95C920.59,445.38 921.3,446 922.01,446.4C922.73,446.81 923.44,447.22 924.15,447.37C924.86,447.51 925.58,447.47 926.29,447.28C927,447.08 927.71,446.61 928.43,446.19C929.14,445.76 929.85,445.14 930.56,444.74C931.28,444.33 932.34,443.93 932.7,443.77"/>
<path d="M813,449.58C813.36,449.6 814.43,449.48 815.14,449.67C815.85,449.87 816.56,450.34 817.28,450.76C817.99,451.19 818.7,451.81 819.41,452.21C820.13,452.62 820.84,453.03 821.55,453.18C822.26,453.32 822.98,453.28 823.69,453.09C824.4,452.89 825.11,452.42 825.83,452C826.54,451.57 827.25,450.95 827.96,450.55C828.68,450.14 829.39,449.73 830.1,449.58C830.81,449.44 831.53,449.48 832.24,449.67C832.95,449.87 833.66,450.34 834.38,450.76C835.09,451.19 835.8,451.81 836.51,452.21C837.23,452.62 837.94,453.03 838.65,453.18C839.36,453.32 840.08,453.28 840.79,453.09C841.5,452.89 842.21,452.42 842.93,452C843.64,451.57 844.35,450.95 845.06,450.55C845.78,450.14 846.49,449.73 847.2,449.58C847.91,449.44 848.63,449.48 849.34,449.67C850.05,449.87 850.76,450.34 851.48,450.76C852.19,451.19 852.9,451.81 853.61,452.21C854.33,452.62 855.04,453.03 855.75,453.18C856.46,453.32 857.18,453.28 857.89,453.09C858.6,452.89 859.31,452.42 860.03,452C860.74,451.57 861.45,450.95 862.16,450.55C862.88,450.14 863.59,449.73 864.3,449.58C865.01,449.44 865.73,449.48 866.44,449.67C867.15,449.87 867.86,450.34 868.58,450.76C869.29,451.19 870,451.81 870.71,452.21C871.43,452.62 872.14,453.03 872.85,453.18C873.56,453.32 874.28,453.28 874.99,453.09C875.7,452.89 876.41,452.42 877.13,452C877.84,451.57 878.55,450.95 879.26,450.55C879.98,450.14 880.69,449.73 881.4,449.58C882.11,449.44 882.83,449.48 883.54,449.67C884.25,449.87 884.96,450.34 885.68,450.76C886.39,451.19 887.1,451.81 887.81,452.21C888.53,452.62 889.24,453.03 889.95,453.18C890.66,453.32 891.38,453.28 892.09,453.09C892.8,452.89 893.51,452.42 894.23,452C894.94,451.57 895.65,450.95 896.36,450.55C897.08,450.14 897.79,449.73 898.5,449.58C899.21,449.44 899.93,449.48 900.64,449.67C901.35,449.87 902.06,450.34 902.78,450.76C903.49,451.19 904.2,451.81 904.91,452.21C905.63,452.62 906.34,453.03 907.05,453.18C907.76,453.32 908.48,453.28 909.19,453.09C909.9,452.89 910.61,452.42 911.33,452C912.04,451.57 912.75,450.95 913.46,450.55C914.18,450.14 914.89,449.73 915.6,449.58C916.31,449.44 917.03,449.48 917.74,449.67C918.45,449.87 919.16,450.34 919.88,450.76C920.59,451.19 921.3,451.81 922.01,452.21C922.73,452.62 923.44,453.03 924.15,453.18C924.86,453.32 925.58,453.28 926.29,453.09C927,452.89 927.71,452.42 928.43,452C929.14,451.57 929.85,450.95 930.56,450.55C931.28,450.14 932.34,449.74 932.7,449.58"/>
<path d="M813,455.39C813.36,455.41 814.43,455.29 815.14,455.48C815.85,455.68 816.56,456.15 817.28,456.57C817.99,457 818.7,457.62 819.41,458.02C820.13,458.43 820.84,458.84 821.55,458.99C822.26,459.13 822.98,459.09 823.69,458.9C824.4,458.7 825.11,458.23 825.83,457.81C826.54,457.38 827.25,456.76 827.96,456.36C828.68,455.95 829.39,455.54 830.1,455.39C830.81,455.25 831.53,455.29 832.24,455.48C832.95,455.68 833.66,456.15 834.38,456.57C835.09,457 835.8,457.62 836.51,458.02C837.23,458.43 837.94,458.84 838.65,458.99C839.36,459.13 840.08,459.09 840.79,458.9C841.5,458.7 842.21,458.23 842.93,457.81C843.64,457.38 844.35,456.76 845.06,456.36C845.78,455.95 846.49,455.54 847.2,455.39C847.91,455.25 848.63,455.29 849.34,455.48C850.05,455.68 850.76,456.15 851.48,456.57C852.19,457 852.9,457.62 853.61,458.02C854.33,458.43 855.04,458.84 855.75,458.99C856.46,459.13 857.18,459.09 857.89,458.9C858.6,458.7 859.31,458.23 860.03,457.81C860.74,457.38 861.45,456.76 862.16,456.36C862.88,455.95 863.59,455.54 864.3,455.39C865.01,455.25 865.73,455.29 866.44,455.48C867.15,455.68 867.86,456.15 868.58,456.57C869.29,457 870,457.62 870.71,458.02C871.43,458.43 872.14,458.84 872.85,458.99C873.56,459.13 874.28,459.09 874.99,458.9C875.7,458.7 876.41,458.23 877.13,457.81C877.84,457.38 878.55,456.76 879.26,456.36C879.98,455.95 880.69,455.54 881.4,455.39C882.11,455.25 882.83,455.29 883.54,455.48C884.25,455.68 884.96,456.15 885.68,456.57C886.39,457 887.1,457.62 887.81,458.02C888.53,458.43 889.24,458.84 889.95,458.99C890.66,459.13 891.38,459.09 892.09,458.9C892.8,458.7 893.51,458.23 894.23,457.81C894.94,457.38 895.65,456.76 896.36,456.36C897.08,455.95 897.79,455.54 898.5,455.39C899.21,455.25 899.93,455.29 900.64,455.48C901.35,455.68 902.06,456.15 902.78,456.57C903.49,457 904.2,457.62 904.91,458.02C905.63,458.43 906.34,458.84 907.05,458.99C907.76,459.13 908.48,459.09 909.19,458.9C909.9,458.7 910.61,458.23 911.33,457.81C912.04,457.38 912.75,456.76 913.46,456.36C914.18,455.95 914.89,455.54 915.6,455.39C916.31,455.25 917.03,455.29 917.74,455.48C918.45,455.68 919.16,456.15 919.88,456.57C920.59,457 921.3,457.62 922.01,458.02C922.73,458.43 923.44,458.84 924.15,458.99C924.86,459.13 925.58,459.09 926.29,458.9C927,458.7 927.71,458.23 928.43,457.81C929.14,457.38 929.85,456.76 930.56,456.36C931.28,455.95 932.34,455.55 932.7,455.39"/>
<path d="M813,461.2C813.36,461.22 814.43,461.1 815.14,461.29C815.85,461.49 816.56,461.96 817.28,462.38C817.99,462.81 818.7,463.43 819.41,463.83C820.13,464.24 820.84,464.65 821.55,464.8C822.26,464.94 822.98,464.9 823.69,464.71C824.4,464.51 825.11,464.04 825.83,463.62C826.54,463.19 827.25,462.57 827.96,462.17C828.68,461.76 829.39,461.35 830.1,461.2C830.81,461.06 831.53,461.1 832.24,461.29C832.95,461.49 833.66,461.96 834.38,462.38C835.09,462.81 835.8,463.43 836.51,463.83C837.23,464.24 837.94,464.65 838.65,464.8C839.36,464.94 840.08,464.9 840.79,464.71C841.5,464.51 842.21,464.04 842.93,463.62C843.64,463.19 844.35,462.57 845.06,462.17C845.78,461.76 846.49,461.35 847.2,461.2C847.91,461.06 848.63,461.1 849.34,461.29C850.05,461.49 850.76,461.96 851.48,462.38C852.19,462.81 852.9,463.43 853.61,463.83C854.33,464.24 855.04,464.65 855.75,464.8C856.46,464.94 857.18,464.9 857.89,464.71C858.6,464.51 859.31,464.04 860.03,463.62C860.74,463.19 861.45,462.57 862.16,462.17C862.88,461.76 863.59,461.35 864.3,461.2C865.01,461.06 865.73,461.1 866.44,461.29C867.15,461.49 867.86,461.96 868.58,462.38C869.29,462.81 870,463.43 870.71,463.83C871.43,464.24 872.14,464.65 872.85,464.8C873.56,464.94 874.28,464.9 874.99,464.71C875.7,464.51 876.41,464.04 877.13,463.62C877.84,463.19 878.55,462.57 879.26,462.17C879.98,461.76 880.69,461.35 881.4,461.2C882.11,461.06 882.83,461.1 883.54,461.29C884.25,461.49 884.96,461.96 885.68,462.38C886.39,462.81 887.1,463.43 887.81,463.83C888.53,464.24 889.24,464.65 889.95,464.8C890.66,464.94 891.38,464.9 892.09,464.71C892.8,464.51 893.51,464.04 894.23,463.62C894.94,463.19 895.65,462.57 896.36,462.17C897.08,461.76 897.79,461.35 898.5,461.2C899.21,461.06 899.93,461.1 900.64,461.29C901.35,461.49 902.06,461.96 902.78,462.38C903.49,462.81 904.2,463.43 904.91,463.83C905.63,464.24 906.34,464.65 907.05,464.8C907.76,464.94 908.48,464.9 909.19,464.71C909.9,464.51 910.61,464.04 911.33,463.62C912.04,463.19 912.75,462.57 913.46,462.17C914.18,461.76 914.89,461.35 915.6,461.2C916.31,461.06 917.03,461.1 917.74,461.29C918.45,461.49 919.16,461.96 919.88,462.38C920.59,462.81 921.3,463.43 922.01,463.83C922.73,464.24 923.44,464.65 924.15,464.8C924.86,464.94 925.58,464.9 926.29,464.71C927,464.51 927.71,464.04 928.43,463.62C929.14,463.19 929.85,462.57 930.56,462.17C931.28,461.76 932.34,461.36 932.7,461.2"/>
<path d="M813,467.01C813.36,467.03 814.43,466.91 815.14,467.1C815.85,467.3 816.56,467.77 817.28,468.19C817.99,468.62 818.7,469.24 819.41,469.64C820.13,470.05 820.84,470.46 821.55,470.61C822.26,470.75 822.98,470.71 823.69,470.52C824.4,470.32 825.11,469.85 825.83,469.43C826.54,469 827.25,468.38 827.96,467.98C828.68,467.57 829.39,467.16 830.1,467.01C830.81,466.87 831.53,466.91 832.24,467.1C832.95,467.3 833.66,467.77 834.38,468.19C835.09,468.62 835.8,469.24 836.51,469.64C837.23,470.05 837.94,470.46 838.65,470.61C839.36,470.75 840.08,470.71 840.79,470.52C841.5,470.32 842.21,469.85 842.93,469.43C843.64,469 844.35,468.38 845.06,467.98C845.78,467.57 846.49,467.16 847.2,467.01C847.91,466.87 848.63,466.91 849.34,467.1C850.05,467.3 850.76,467.77 851.48,468.19C852.19,468.62 852.9,469.24 853.61,469.64C854.33,470.05 855.04,470.46 855.75,470.61C856.46,470.75 857.18,470.71 857.89,470.52C858.6,470.32 859.31,469.85 860.03,469.43C860.74,469 861.45,468.38 862.16,467.98C862.88,467.57 863.59,467.16 864.3,467.01C865.01,466.87 865.73,466.91 866.44,467.1C867.15,467.3 867.86,467.77 868.58,468.19C869.29,468.62 870,469.24 870.71,469.64C871.43,470.05 872.14,470.46 872.85,470.61C873.56,470.75 874.28,470.71 874.99,470.52C875.7,470.32 876.41,469.85 877.13,469.43C877.84,469 878.55,468.38 879.26,467.98C879.98,467.57 880.69,467.16 881.4,467.01C882.11,466.87 882.83,466.91 883.54,467.1C884.25,467.3 884.96,467.77 885.68,468.19C886.39,468.62 887.1,469.24 887.81,469.64C888.53,470.05 889.24,470.46 889.95,470.61C890.66,470.75 891.38,470.71 892.09,470.52C892.8,470.32 893.51,469.85 894.23,469.43C894.94,469 895.65,468.38 896.36,467.98C897.08,467.57 897.79,467.16 898.5,467.01C899.21,466.87 899.93,466.91 900.64,467.1C901.35,467.3 902.06,467.77 902.78,468.19C903.49,468.62 904.2,469.24 904.91,469.64C905.63,470.05 906.34,470.46 907.05,470.61C907.76,470.75 908.48,470.71 909.19,470.52C909.9,470.32 910.61,469.85 911.33,469.43C912.04,469 912.75,468.38 913.46,467.98C914.18,467.57 914.89,467.16 915.6,467.01C916.31,466.87 917.03,466.91 917.74,467.1C918.45,467.3 919.16,467.77 919.88,468.19C920.59,468.62 921.3,469.24 922.01,469.64C922.73,470.05 923.44,470.46 924.15,470.61C924.86,470.75 925.58,470.71 926.29,470.52C927,470.32 927.71,469.85 928.43,469.43C929.14,469 929.85,468.38 930.56,467.98C931.28,467.57 932.34,467.17 932.7,467.01"/>
<path d="M813,472.82C813.36,472.84 814.43,472.72 815.14,472.91C815.85,473.11 816.56,473.58 817.28,474C817.99,474.43 818.7,475.05 819.41,475.45C820.13,475.86 820.84,476.27 821.55,476.42C822.26,476.56 822.98,476.52 823.69,476.33C824.4,476.13 825.11,475.66 825.83,475.24C826.54,474.81 827.25,474.19 827.96,473.79C828.68,473.38 829.39,472.97 830.1,472.82C830.81,472.68 831.53,472.72 832.24,472.91C832.95,473.11 833.66,473.58 834.38,474C835.09,474.43 835.8,475.05 836.51,475.45C837.23,475.86 837.94,476.27 838.65,476.42C839.36,476.56 840.08,476.52 840.79,476.33C841.5,476.13 842.21,475.66 842.93,475.24C843.64,474.81 844.35,474.19 845.06,473.79C845.78,473.38 846.49,472.97 847.2,472.82C847.91,472.68 848.63,472.72 849.34,472.91C850.05,473.11 850.76,473.58 851.48,474C852.19,474.43 852.9,475.05 853.61,475.45C854.33,475.86 855.04,476.27 855.75,476.42C856.46,476.56 857.18,476.52 857.89,476.33C858.6,476.13 859.31,475.66 860.03,475.24C860.74,474.81 861.45,474.19 862.16,473.79C862.88,473.38 863.59,472.97 864.3,472.82C865.01,472.68 865.73,472.72 866.44,472.91C867.15,473.11 867.86,473.58 868.58,474C869.29,474.43 870,475.05 870.71,475.45C871.43,475.86 872.14,476.27 872.85,476.42C873.56,476.56 874.28,476.52 874.99,476.33C875.7,476.13 876.41,475.66 877.13,475.24C877.84,474.81 878.55,474.19 879.26,473.79C879.98,473.38 880.69,472.97 881.4,472.82C882.11,472.68 882.83,472.72 883.54,472.91C884.25,473.11 884.96,473.58 885.68,474C886.39,474.43 887.1,475.05 887.81,475.45C888.53,475.86 889.24,476.27 889.95,476.42C890.66,476.56 891.38,476.52 892.09,476.33C892.8,476.13 893.51,475.66 894.23,475.24C894.94,474.81 895.65,474.19 896.36,473.79C897.08,473.38 897.79,472.97 898.5,472.82C899.21,472.68 899.93,472.72 900.64,472.91C901.35,473.11 902.06,473.58 902.78,474C903.49,474.43 904.2,475.05 904.91,475.45C905.63,475.86 906.34,476.27 907.05,476.42C907.76,476.56 908.48,476.52 909.19,476.33C909.9,476.13 910.61,475.66 911.33,475.24C912.04,474.81 912.75,474.19 913.46,473.79C914.18,473.38 914.89,472.97 915.6,472.82C916.31,472.68 917.03,472.72 917.74,472.91C918.45,473.11 919.16,473.58 919.88,474C920.59,474.43 921.3,475.05 922.01,475.45C922.73,475.86 923.44,476.27 924.15,476.42C924.86,476.56 925.58,476.52 926.29,476.33C927,476.13 927.71,475.66 928.43,475.24C929.14,474.81 929.85,474.19 930.56,473.79C931.28,473.38 932.34,472.98 932.7,472.82"/>
<path d="M813,478.63C813.36,478.65 814.43,478.53 815.14,478.72C815.85,478.92 816.56,479.39 817.28,479.81C817.99,480.24 818.7,480.86 819.41,481.26C820.13,481.67 820.84,482.08 821.55,482.23C822.26,482.37 822.98,482.33 823.69,482.14C824.4,481.94 825.11,481.47 825.83,481.05C826.54,480.62 827.25,480 827.96,479.6C828.68,479.19 829.39,478.78 830.1,478.63C830.81,478.49 831.53,478.53 832.24,478.72C832.95,478.92 833.66,479.39 834.38,479.81C835.09,480.24 835.8,480.86 836.51,481.26C837.23,481.67 837.94,482.08 838.65,482.23C839.36,482.37 840.08,482.33 840.79,482.14C841.5,481.94 842.21,481.47 842.93,481.05C843.64,480.62 844.35,480 845.06,479.6C845.78,479.19 846.49,478.78 847.2,478.63C847.91,478.49 848.63,478.53 849.34,478.72C850.05,478.92 850.76,479.39 851.48,479.81C852.19,480.24 852.9,480.86 853.61,481.26C854.33,481.67 855.04,482.08 855.75,482.23C856.46,482.37 857.18,482.33 857.89,482.14C858.6,481.94 859.31,481.47 860.03,481.05C860.74,480.62 861.45,480 862.16,479.6C862.88,479.19 863.59,478.78 864.3,478.63C865.01,478.49 865.73,478.53 866.44,478.72C867.15,478.92 867.86,479.39 868.58,479.81C869.29,480.24 870,480.86 870.71,481.26C871.43,481.67 872.14,482.08 872.85,482.23C873.56,482.37 874.28,482.33 874.99,482.14C875.7,481.94 876.41,481.47 877.13,481.05C877.84,480.62 878.55,480 879.26,479.6C879.98,479.19 880.69,478.78 881.4,478.63C882.11,478.49 882.83,478.53 883.54,478.72C884.25,478.92 884.96,479.39 885.68,479.81C886.39,480.24 887.1,480.86 887.81,481.26C888.53,481.67 889.24,482.08 889.95,482.23C890.66,482.37 891.38,482.33 892.09,482.14C892.8,481.94 893.51,481.47 894.23,481.05C894.94,480.62 895.65,480 896.36,479.6C897.08,479.19 897.79,478.78 898.5,478.63C899.21,478.49 899.93,478.53 900.64,478.72C901.35,478.92 902.06,479.39 902.78,479.81C903.49,480.24 904.2,480.86 904.91,481.26C905.63,481.67 906.34,482.08 907.05,482.23C907.76,482.37 908.48,482.33 909.19,482.14C909.9,481.94 910.61,481.47 911.33,481.05C912.04,480.62 912.75,480 913.46,479.6C914.18,479.19 914.89,478.78 915.6,478.63C916.31,478.49 917.03,478.53 917.74,478.72C918.45,478.92 919.16,479.39 919.88,479.81C920.59,480.24 921.3,480.86 922.01,481.26C922.73,481.67 923.44,482.08 924.15,482.23C924.86,482.37 925.58,482.33 926.29,482.14C927,481.94 927.71,481.47 928.43,481.05C929.14,480.62 929.85,480 930.56,479.6C931.28,479.19 932.34,478.79 932.7,478.63"/>
<path d="M813,484.44C813.36,484.46 814.43,484.34 815.14,484.53C815.85,484.73 816.56,485.2 817.28,485.62C817.99,486.05 818.7,486.67 819.41,487.07C820.13,487.48 820.84,487.89 821.55,488.04C822.26,488.18 822.98,488.14 823.69,487.95C824.4,487.75 825.11,487.28 825.83,486.86C826.54,486.43 827.25,485.81 827.96,485.41C828.68,485 829.39,484.59 830.1,484.44C830.81,484.3 831.53,484.34 832.24,484.53C832.95,484.73 833.66,485.2 834.38,485.62C835.09,486.05 835.8,486.67 836.51,487.07C837.23,487.48 837.94,487.89 838.65,488.04C839.36,488.18 840.08,488.14 840.79,487.95C841.5,487.75 842.21,487.28 842.93,486.86C843.64,486.43 844.35,485.81 845.06,485.41C845.78,485 846.49,484.59 847.2,484.44C847.91,484.3 848.63,484.34 849.34,484.53C850.05,484.73 850.76,485.2 851.48,485.62C852.19,486.05 852.9,486.67 853.61,487.07C854.33,487.48 855.04,487.89 855.75,488.04C856.46,488.18 857.18,488.14 857.89,487.95C858.6,487.75 859.31,487.28 860.03,486.86C860.74,486.43 861.45,485.81 862.16,485.41C862.88,485 863.59,484.59 864.3,484.44C865.01,484.3 865.73,484.34 866.44,484.53C867.15,484.73 867.86,485.2 868.58,485.62C869.29,486.05 870,486.67 870.71,487.07C871.43,487.48 872.14,487.89 872.85,488.04C873.56,488.18 874.28,488.14 874.99,487.95C875.7,487.75 876.41,487.28 877.13,486.86C877.84,486.43 878.55,485.81 879.26,485.41C879.98,485 880.69,484.59 881.4,484.44C882.11,484.3 882.83,484.34 883.54,484.53C884.25,484.73 884.96,485.2 885.68,485.62C886.39,486.05 887.1,486.67 887.81,487.07C888.53,487.48 889.24,487.89 889.95,488.04C890.66,488.18 891.38,488.14 892.09,487.95C892.8,487.75 893.51,487.28 894.23,486.86C894.94,486.43 895.65,485.81 896.36,485.41C897.08,485 897.79,484.59 898.5,484.44C899.21,484.3 899.93,484.34 900.64,484.53C901.35,484.73 902.06,485.2 902.78,485.62C903.49,486.05 904.2,486.67 904.91,487.07C905.63,487.48 906.34,487.89 907.05,488.04C907.76,488.18 908.48,488.14 909.19,487.95C909.9,487.75 910.61,487.28 911.33,486.86C912.04,486.43 912.75,485.81 913.46,485.41C914.18,485 914.89,484.59 915.6,484.44C916.31,484.3 917.03,484.34 917.74,484.53C918.45,484.73 919.16,485.2 919.88,485.62C920.59,486.05 921.3,486.67 922.01,487.07C922.73,487.48 923.44,487.89 924.15,488.04C924.86,488.18 925.58,488.14 926.29,487.95C927,487.75 927.71,487.28 928.43,486.86C929.14,486.43 929.85,485.81 930.56,485.41C931.28,485 932.34,484.6 932.7,484.44"/>
<path d="M813,490.25C813.36,490.27 814.43,490.15 815.14,490.34C815.85,490.54 816.56,491.01 817.28,491.43C817.99,491.86 818.7,492.48 819.41,492.88C820.13,493.29 820.84,493.7 821.55,493.85C822.26,493.99 822.98,493.95 823.69,493.76C824.4,493.56 825.11,493.09 825.83,492.67C826.54,492.24 827.25,491.62 827.96,491.22C828.68,490.81 829.39,490.4 830.1,490.25C830.81,490.11 831.53,490.15 832.24,490.34C832.95,490.54 833.66,491.01 834.38,491.43C835.09,491.86 835.8,492.48 836.51,492.88C837.23,493.29 837.94,493.7 838.65,493.85C839.36,493.99 840.08,493.95 840.79,493.76C841.5,493.56 842.21,493.09 842.93,492.67C843.64,492.24 844.35,491.62 845.06,491.22C845.78,490.81 846.49,490.4 847.2,490.25C847.91,490.11 848.63,490.15 849.34,490.34C850.05,490.54 850.76,491.01 851.48,491.43C852.19,491.86 852.9,492.48 853.61,492.88C854.33,493.29 855.04,493.7 855.75,493.85C856.46,493.99 857.18,493.95 857.89,493.76C858.6,493.56 859.31,493.09 860.03,492.67C860.74,492.24 861.45,491.62 862.16,491.22C862.88,490.81 863.59,490.4 864.3,490.25C865.01,490.11 865.73,490.15 866.44,490.34C867.15,490.54 867.86,491.01 868.58,491.43C869.29,491.86 870,492.48 870.71,492.88C871.43,493.29 872.14,493.7 872.85,493.85C873.56,493.99 874.28,493.95 874.99,493.76C875.7,493.56 876.41,493.09 877.13,492.67C877.84,492.24 878.55,491.62 879.26,491.22C879.98,490.81 880.69,490.4 881.4,490.25C882.11,490.11 882.83,490.15 883.54,490.34C884.25,490.54 884.96,491.01 885.68,491.43C886.39,491.86 887.1,492.48 887.81,492.88C888.53,493.29 889.24,493.7 889.95,493.85C890.66,493.99 891.38,493.95 892.09,493.76C892.8,493.56 893.51,493.09 894.23,492.67C894.94,492.24 895.65,491.62 896.36,491.22C897.08,490.81 897.79,490.4 898.5,490.25C899.21,490.11 899.93,490.15 900.64,490.34C901.35,490.54 902.06,491.01 902.78,491.43C903.49,491.86 904.2,492.48 904.91,492.88C905.63,493.29 906.34,493.7 907.05,493.85C907.76,493.99 908.48,493.95 909.19,493.76C909.9,493.56 910.61,493.09 911.33,492.67C912.04,492.24 912.75,491.62 913.46,491.22C914.18,490.81 914.89,490.4 915.6,490.25C916.31,490.11 917.03,490.15 917.74,490.34C918.45,490.54 919.16,491.01 919.88,491.43C920.59,491.86 921.3,492.48 922.01,492.88C922.73,493.29 923.44,493.7 924.15,493.85C924.86,493.99 925.58,493.95 926.29,493.76C927,493.56 927.71,493.09 928.43,492.67C929.14,492.24 929.85,491.62 930.56,491.22C931.28,490.81 932.34,490.41 932.7,490.25"/>
<path d="M813,496.06C813.36,496.08 814.43,495.96 815.14,496.15C815.85,496.35 816.56,496.82 817.28,497.24C817.99,497.67 818.7,498.29 819.41,498.69C820.13,499.1 820.84,499.51 821.55,499.66C822.26,499.8 822.98,499.76 823.69,499.57C824.4,499.37 825.11,498.9 825.83,498.48C826.54,498.05 827.25,497.43 827.96,497.03C828.68,496.62 829.39,496.21 830.1,496.06C830.81,495.92 831.53,495.96 832.24,496.15C832.95,496.35 833.66,496.82 834.38,497.24C835.09,497.67 835.8,498.29 836.51,498.69C837.23,499.1 837.94,499.51 838.65,499.66C839.36,499.8 840.08,499.76 840.79,499.57C841.5,499.37 842.21,498.9 842.93,498.48C843.64,498.05 844.35,497.43 845.06,497.03C845.78,496.62 846.49,496.21 847.2,496.06C847.91,495.92 848.63,495.96 849.34,496.15C850.05,496.35 850.76,496.82 851.48,497.24C852.19,497.67 852.9,498.29 853.61,498.69C854.33,499.1 855.04,499.51 855.75,499.66C856.46,499.8 857.18,499.76 857.89,499.57C858.6,499.37 859.31,498.9 860.03,498.48C860.74,498.05 861.45,497.43 862.16,497.03C862.88,496.62 863.59,496.21 864.3,496.06C865.01,495.92 865.73,495.96 866.44,496.15C867.15,496.35 867.86,496.82 868.58,497.24C869.29,497.67 870,498.29 870.71,498.69C871.43,499.1 872.14,499.51 872.85,499.66C873.56,499.8 874.28,499.76 874.99,499.57C875.7,499.37 876.41,498.9 877.13,498.48C877.84,498.05 878.55,497.43 879.26,497.03C879.98,496.62 880.69,496.21 881.4,496.06C882.11,495.92 882.83,495.96 883.54,496.15C884.25,496.35 884.96,496.82 885.68,497.24C886.39,497.67 887.1,498.29 887.81,498.69C888.53,499.1 889.24,499.51 889.95,499.66C890.66,499.8 891.38,499.76 892.09,499.57C892.8,499.37 893.51,498.9 894.23,498.48C894.94,498.05 895.65,497.43 896.36,497.03C897.08,496.62 897.79,496.21 898.5,496.06C899.21,495.92 899.93,495.96 900.64,496.15C901.35,496.35 902.06,496.82 902.78,497.24C903.49,497.67 904.2,498.29 904.91,498.69C905.63,499.1 906.34,499.51 907.05,499.66C907.76,499.8 908.48,499.76 909.19,499.57C909.9,499.37 910.61,498.9 911.33,498.48C912.04,498.05 912.75,497.43 913.46,497.03C914.18,496.62 914.89,496.21 915.6,496.06C916.31,495.92 917.03,495.96 917.74,496.15C918.45,496.35 919.16,496.82 919.88,497.24C920.59,497.67 921.3,498.29 922.01,498.69C922.73,499.1 923.44,499.51 924.15,499.66C924.86,499.8 925.58,499.76 926.29,499.57C927,499.37 927.71,498.9 928.43,498.48C929.14,498.05 929.85,497.43 930.56,497.03C931.28,496.62 932.34,496.22 932.7,496.06"/>
<path d="M813,501.87C813.36,501.89 814.43,501.77 815.14,501.96C815.85,502.16 816.56,502.63 817.28,503.05C817.99,503.48 818.7,504.1 819.41,504.5C820.13,504.91 820.84,505.32 821.55,505.47C822.26,505.61 822.98,505.57 823.69,505.38C824.4,505.18 825.11,504.71 825.83,504.29C826.54,503.86 827.25,503.24 827.96,502.84C828.68,502.43 829.39,502.02 830.1,501.87C830.81,501.73 831.53,501.77 832.24,501.96C832.95,502.16 833.66,502.63 834.38,503.05C835.09,503.48 835.8,504.1 836.51,504.5C837.23,504.91 837.94,505.32 838.65,505.47C839.36,505.61 840.08,505.57 840.79,505.38C841.5,505.18 842.21,504.71 842.93,504.29C843.64,503.86 844.35,503.24 845.06,502.84C845.78,502.43 846.49,502.02 847.2,501.87C847.91,501.73 848.63,501.77 849.34,501.96C850.05,502.16 850.76,502.63 851.48,503.05C852.19,503.48 852.9,504.1 853.61,504.5C854.33,504.91 855.04,505.32 855.75,505.47C856.46,505.61 857.18,505.57 857.89,505.38C858.6,505.18 859.31,504.71 860.03,504.29C860.74,503.86 861.45,503.24 862.16,502.84C862.88,502.43 863.59,502.02 864.3,501.87C865.01,501.73 865.73,501.77 866.44,501.96C867.15,502.16 867.86,502.63 868.58,503.05C869.29,503.48 870,504.1 870.71,504.5C871.43,504.91 872.14,505.32 872.85,505.47C873.56,505.61 874.28,505.57 874.99,505.38C875.7,505.18 876.41,504.71 877.13,504.29C877.84,503.86 878.55,503.24 879.26,502.84C879.98,502.43 880.69,502.02 881.4,501.87C882.11,501.73 882.83,501.77 883.54,501.96C884.25,502.16 884.96,502.63 885.68,503.05C886.39,503.48 887.1,504.1 887.81,504.5C888.53,504.91 889.24,505.32 889.95,505.47C890.66,505.61 891.38,505.57 892.09,505.38C892.8,505.18 893.51,504.71 894.23,504.29C894.94,503.86 895.65,503.24 896.36,502.84C897.08,502.43 897.79,502.02 898.5,501.87C899.21,501.73 899.93,501.77 900.64,501.96C901.35,502.16 902.06,502.63 902.78,503.05C903.49,503.48 904.2,504.1 904.91,504.5C905.63,504.91 906.34,505.32 907.05,505.47C907.76,505.61 908.48,505.57 909.19,505.38C909.9,505.18 910.61,504.71 911.33,504.29C912.04,503.86 912.75,503.24 913.46,502.84C914.18,502.43 914.89,502.02 915.6,501.87C916.31,501.73 917.03,501.77 917.74,501.96C918.45,502.16 919.16,502.63 919.88,503.05C920.59,503.48 921.3,504.1 922.01,504.5C922.73,504.91 923.44,505.32 924.15,505.47C924.86,505.61 925.58,505.57 926.29,505.38C927,505.18 927.71,504.71 928.43,504.29C929.14,503.86 929.85,503.24 930.56,502.84C931.28,502.43 932.34,502.03 932.7,501.87"/>
<path d="M813,507.68C813.36,507.7 814.43,507.58 815.14,507.77C815.85,507.97 816.56,508.44 817.28,508.86C817.99,509.29 818.7,509.91 819.41,510.31C820.13,510.72 820.84,511.13 821.55,511.28C822.26,511.42 822.98,511.38 823.69,511.19C824.4,510.99 825.11,510.52 825.83,510.1C826.54,509.67 827.25,509.05 827.96,508.65C828.68,508.24 829.39,507.83 830.1,507.68C830.81,507.54 831.53,507.58 832.24,507.77C832.95,507.97 833.66,508.44 834.38,508.86C835.09,509.29 835.8,509.91 836.51,510.31C837.23,510.72 837.94,511.13 838.65,511.28C839.36,511.42 840.08,511.38 840.79,511.19C841.5,510.99 842.21,510.52 842.93,510.1C843.64,509.67 844.35,509.05 845.06,508.65C845.78,508.24 846.49,507.83 847.2,507.68C847.91,507.54 848.63,507.58 849.34,507.77C850.05,507.97 850.76,508.44 851.48,508.86C852.19,509.29 852.9,509.91 853.61,510.31C854.33,510.72 855.04,511.13 855.75,511.28C856.46,511.42 857.18,511.38 857.89,511.19C858.6,510.99 859.31,510.52 860.03,510.1C860.74,509.67 861.45,509.05 862.16,508.65C862.88,508.24 863.59,507.83 864.3,507.68C865.01,507.54 865.73,507.58 866.44,507.77C867.15,507.97 867.86,508.44 868.58,508.86C869.29,509.29 870,509.91 870.71,510.31C871.43,510.72 872.14,511.13 872.85,511.28C873.56,511.42 874.28,511.38 874.99,511.19C875.7,510.99 876.41,510.52 877.13,510.1C877.84,509.67 878.55,509.05 879.26,508.65C879.98,508.24 880.69,507.83 881.4,507.68C882.11,507.54 882.83,507.58 883.54,507.77C884.25,507.97 884.96,508.44 885.68,508.86C886.39,509.29 887.1,509.91 887.81,510.31C888.53,510.72 889.24,511.13 889.95,511.28C890.66,511.42 891.38,511.38 892.09,511.19C892.8,510.99 893.51,510.52 894.23,510.1C894.94,509.67 895.65,509.05 896.36,508.65C897.08,508.24 897.79,507.83 898.5,507.68C899.21,507.54 899.93,507.58 900.64,507.77C901.35,507.97 902.06,508.44 902.78,508.86C903.49,509.29 904.2,509.91 904.91,510.31C905.63,510.72 906.34,511.13 907.05,511.28C907.76,511.42 908.48,511.38 909.19,511.19C909.9,510.99 910.61,510.52 911.33,510.1C912.04,509.67 912.75,509.05 913.46,508.65C914.18,508.24 914.89,507.83 915.6,507.68C916.31,507.54 917.03,507.58 917.74,507.77C918.45,507.97 919.16,508.44 919.88,508.86C920.59,509.29 921.3,509.91 922.01,510.31C922.73,510.72 923.44,511.13 924.15,511.28C924.86,511.42 925.58,511.38 926.29,511.19C927,510.99 927.71,510.52 928.43,510.1C929.14,509.67 929.85,509.05 930.56,508.65C931.28,508.24 932.34,507.84 932.7,507.68"/>
<path d="M813,513.49C813.36,513.51 814.43,513.39 815.14,513.58C815.85,513.78 816.56,514.25 817.28,514.67C817.99,515.1 818.7,515.72 819.41,516.12C820.13,516.53 820.84,516.94 821.55,517.09C822.26,517.23 822.98,517.19 823.69,517C824.4,516.8 825.11,516.33 825.83,515.91C826.54,515.48 827.25,514.86 827.96,514.46C828.68,514.05 829.39,513.64 830.1,513.49C830.81,513.35 831.53,513.39 832.24,513.58C832.95,513.78 833.66,514.25 834.38,514.67C835.09,515.1 835.8,515.72 836.51,516.12C837.23,516.53 837.94,516.94 838.65,517.09C839.36,517.23 840.08,517.19 840.79,517C841.5,516.8 842.21,516.33 842.93,515.91C843.64,515.48 844.35,514.86 845.06,514.46C845.78,514.05 846.49,513.64 847.2,513.49C847.91,513.35 848.63,513.39 849.34,513.58C850.05,513.78 850.76,514.25 851.48,514.67C852.19,515.1 852.9,515.72 853.61,516.12C854.33,516.53 855.04,516.94 855.75,517.09C856.46,517.23 857.18,517.19 857.89,517C858.6,516.8 859.31,516.33 860.03,515.91C860.74,515.48 861.45,514.86 862.16,514.46C862.88,514.05 863.59,513.64 864.3,513.49C865.01,513.35 865.73,513.39 866.44,513.58C867.15,513.78 867.86,514.25 868.58,514.67C869.29,515.1 870,515.72 870.71,516.12C871.43,516.53 872.14,516.94 872.85,517.09C873.56,517.23 874.28,517.19 874.99,517C875.7,516.8 876.41,516.33 877.13,515.91C877.84,515.48 878.55,514.86 879.26,514.46C879.98,514.05 880.69,513.64 881.4,513.49C882.11,513.35 882.83,513.39 883.54,513.58C884.25,513.78 884.96,514.25 885.68,514.67C886.39,515.1 887.1,515.72 887.81,516.12C888.53,516.53 889.24,516.94 889.95,517.09C890.66,517.23 891.38,517.19 892.09,517C892.8,516.8 893.51,516.33 894.23,515.91C894.94,515.48 895.65,514.86 896.36,514.46C897.08,514.05 897.79,513.64 898.5,513.49C899.21,513.35 899.93,513.39 900.64,513.58C901.35,513.78 902.06,514.25 902.78,514.67C903.49,515.1 904.2,515.72 904.91,516.12C905.63,516.53 906.34,516.94 907.05,517.09C907.76,517.23 908.48,517.19 909.19,517C909.9,516.8 910.61,516.33 911.33,515.91C912.04,515.48 912.75,514.86 913.46,514.46C914.18,514.05 914.89,513.64 915.6,513.49C916.31,513.35 917.03,513.39 917.74,513.58C918.45,513.78 919.16,514.25 919.88,514.67C920.59,515.1 921.3,515.72 922.01,516.12C922.73,516.53 923.44,516.94 924.15,517.09C924.86,517.23 925.58,517.19 926.29,517C927,516.8 927.71,516.33 928.43,515.91C929.14,515.48 929.85,514.86 930.56,514.46C931.28,514.05 932.34,513.65 932.7,513.49"/>
<path d="M813,519.3C813.36,519.32 814.43,519.2 815.14,519.39C815.85,519.59 816.56,520.06 817.28,520.48C817.99,520.91 818.7,521.53 819.41,521.93C820.13,522.34 820.84,522.75 821.55,522.9C822.26,523.04 822.98,523 823.69,522.81C824.4,522.61 825.11,522.14 825.83,521.72C826.54,521.29 827.25,520.67 827.96,520.27C828.68,519.86 829.39,519.45 830.1,519.3C830.81,519.16 831.53,519.2 832.24,519.39C832.95,519.59 833.66,520.06 834.38,520.48C835.09,520.91 835.8,521.53 836.51,521.93C837.23,522.34 837.94,522.75 838.65,522.9C839.36,523.04 840.08,523 840.79,522.81C841.5,522.61 842.21,522.14 842.93,521.72C843.64,521.29 844.35,520.67 845.06,520.27C845.78,519.86 846.49,519.45 847.2,519.3C847.91,519.16 848.63,519.2 849.34,519.39C850.05,519.59 850.76,520.06 851.48,520.48C852.19,520.91 852.9,521.53 853.61,521.93C854.33,522.34 855.04,522.75 855.75,522.9C856.46,523.04 857.18,523 857.89,522.81C858.6,522.61 859.31,522.14 860.03,521.72C860.74,521.29 861.45,520.67 862.16,520.27C862.88,519.86 863.59,519.45 864.3,519.3C865.01,519.16 865.73,519.2 866.44,519.39C867.15,519.59 867.86,520.06 868.58,520.48C869.29,520.91 870,521.53 870.71,521.93C871.43,522.34 872.14,522.75 872.85,522.9C873.56,523.04 874.28,523 874.99,522.81C875.7,522.61 876.41,522.14 877.13,521.72C877.84,521.29 878.55,520.67 879.26,520.27C879.98,519.86 880.69,519.45 881.4,519.3C882.11,519.16 882.83,519.2 883.54,519.39C884.25,519.59 884.96,520.06 885.68,520.48C886.39,520.91 887.1,521.53 887.81,521.93C888.53,522.34 889.24,522.75 889.95,522.9C890.66,523.04 891.38,523 892.09,522.81C892.8,522.61 893.51,522.14 894.23,521.72C894.94,521.29 895.65,520.67 896.36,520.27C897.08,519.86 897.79,519.45 898.5,519.3C899.21,519.16 899.93,519.2 900.64,519.39C901.35,519.59 902.06,520.06 902.78,520.48C903.49,520.91 904.2,521.53 904.91,521.93C905.63,522.34 906.34,522.75 907.05,522.9C907.76,523.04 908.48,523 909.19,522.81C909.9,522.61 910.61,522.14 911.33,521.72C912.04,521.29 912.75,520.67 913.46,520.27C914.18,519.86 914.89,519.45 915.6,519.3C916.31,519.16 917.03,519.2 917.74,519.39C918.45,519.59 919.16,520.06 919.88,520.48C920.59,520.91 921.3,521.53 922.01,521.93C922.73,522.34 923.44,522.75 924.15,522.9C924.86,523.04 925.58,523 926.29,522.81C927,522.61 927.71,522.14 928.43,521.72C929.14,521.29 929.85,520.67 930.56,520.27C931.28,519.86 932.34,519.46 932.7,519.3"/>
<path d="M813,525.11C813.36,525.13 814.43,525.01 815.14,525.2C815.85,525.4 816.56,525.87 817.28,526.29C817.99,526.72 818.7,527.34 819.41,527.74C820.13,528.15 820.84,528.56 821.55,528.71C822.26,528.85 822.98,528.81 823.69,528.62C824.4,528.42 825.11,527.95 825.83,527.53C826.54,527.1 827.25,526.48 827.96,526.08C828.68,525.67 829.39,525.26 830.1,525.11C830.81,524.97 831.53,525.01 832.24,525.2C832.95,525.4 833.66,525.87 834.38,526.29C835.09,526.72 835.8,527.34 836.51,527.74C837.23,528.15 837.94,528.56 838.65,528.71C839.36,528.85 840.08,528.81 840.79,528.62C841.5,528.42 842.21,527.95 842.93,527.53C843.64,527.1 844.35,526.48 845.06,526.08C845.78,525.67 846.49,525.26 847.2,525.11C847.91,524.97 848.63,525.01 849.34,525.2C850.05,525.4 850.76,525.87 851.48,526.29C852.19,526.72 852.9,527.34 853.61,527.74C854.33,528.15 855.04,528.56 855.75,528.71C856.46,528.85 857.18,528.81 857.89,528.62C858.6,528.42 859.31,527.95 860.03,527.53C860.74,527.1 861.45,526.48 862.16,526.08C862.88,525.67 863.59,525.26 864.3,525.11C865.01,524.97 865.73,525.01 866.44,525.2C867.15,525.4 867.86,525.87 868.58,526.29C869.29,526.72 870,527.34 870.71,527.74C871.43,528.15 872.14,528.56 872.85,528.71C873.56,528.85 874.28,528.81 874.99,528.62C875.7,528.42 876.41,527.95 877.13,527.53C877.84,527.1 878.55,526.48 879.26,526.08C879.98,525.67 880.69,525.26 881.4,525.11C882.11,524.97 882.83,525.01 883.54,525.2C884.25,525.4 884.96,525.87 885.68,526.29C886.39,526.72 887.1,527.34 887.81,527.74C888.53,528.15 889.24,528.56 889.95,528.71C890.66,528.85 891.38,528.81 892.09,528.62C892.8,528.42 893.51,527.95 894.23,527.53C894.94,527.1 895.65,526.48 896.36,526.08C897.08,525.67 897.79,525.26 898.5,525.11C899.21,524.97 899.93,525.01 900.64,525.2C901.35,525.4 902.06,525.87 902.78,526.29C903.49,526.72 904.2,527.34 904.91,527.74C905.63,528.15 906.34,528.56 907.05,528.71C907.76,528.85 908.48,528.81 909.19,528.62C909.9,528.42 910.61,527.95 911.33,527.53C912.04,527.1 912.75,526.48 913.46,526.08C914.18,525.67 914.89,525.26 915.6,525.11C916.31,524.97 917.03,525.01 917.74,525.2C918.45,525.4 919.16,525.87 919.88,526.29C920.59,526.72 921.3,527.34 922.01,527.74C922.73,528.15 923.44,528.56 924.15,528.71C924.86,528.85 925.58,528.81 926.29,528.62C927,528.42 927.71,527.95 928.43,527.53C929.14,527.1 929.85,526.48 930.56,526.08C931.28,525.67 932.34,525.27 932.7,525.11"/>
<path d="M813,530.92C813.36,530.94 814.43,530.82 815.14,531.01C815.85,531.21 816.56,531.68 817.28,532.1C817.99,532.53 818.7,533.15 819.41,533.55C820.13,533.96 820.84,534.37 821.55,534.52C822.26,534.66 822.98,534.62 823.69,534.43C824.4,534.23 825.11,533.76 825.83,533.34C826.54,532.91 827.25,532.29 827.96,531.89C828.68,531.48 829.39,531.07 830.1,530.92C830.81,530.78 831.53,530.82 832.24,531.01C832.95,531.21 833.66,531.68 834.38,532.1C835.09,532.53 835.8,533.15 836.51,533.55C837.23,533.96 837.94,534.37 838.65,534.52C839.36,534.66 840.08,534.62 840.79,534.43C841.5,534.23 842.21,533.76 842.93,533.34C843.64,532.91 844.35,532.29 845.06,531.89C845.78,531.48 846.49,531.07 847.2,530.92C847.91,530.78 848.63,530.82 849.34,531.01C850.05,531.21 850.76,531.68 851.48,532.1C852.19,532.53 852.9,533.15 853.61,533.55C854.33,533.96 855.04,534.37 855.75,534.52C856.46,534.66 857.18,534.62 857.89,534.43C858.6,534.23 859.31,533.76 860.03,533.34C860.74,532.91 861.45,532.29 862.16,531.89C862.88,531.48 863.59,531.07 864.3,530.92C865.01,530.78 865.73,530.82 866.44,531.01C867.15,531.21 867.86,531.68 868.58,532.1C869.29,532.53 870,533.15 870.71,533.55C871.43,533.96 872.14,534.37 872.85,534.52C873.56,534.66 874.28,534.62 874.99,534.43C875.7,534.23 876.41,533.76 877.13,533.34C877.84,532.91 878.55,532.29 879.26,531.89C879.98,531.48 880.69,531.07 881.4,530.92C882.11,530.78 882.83,530.82 883.54,531.01C884.25,531.21 884.96,531.68 885.68,532.1C886.39,532.53 887.1,533.15 887.81,533.55C888.53,533.96 889.24,534.37 889.95,534.52C890.66,534.66 891.38,534.62 892.09,534.43C892.8,534.23 893.51,533.76 894.23,533.34C894.94,532.91 895.65,532.29 896.36,531.89C897.08,531.48 897.79,531.07 898.5,530.92C899.21,530.78 899.93,530.82 900.64,531.01C901.35,531.21 902.06,531.68 902.78,532.1C903.49,532.53 904.2,533.15 904.91,533.55C905.63,533.96 906.34,534.37 907.05,534.52C907.76,534.66 908.48,534.62 909.19,534.43C909.9,534.23 910.61,533.76 911.33,533.34C912.04,532.91 912.75,532.29 913.46,531.89C914.18,531.48 914.89,531.07 915.6,530.92C916.31,530.78 917.03,530.82 917.74,531.01C918.45,531.21 919.16,531.68 919.88,532.1C920.59,532.53 921.3,533.15 922.01,533.55C922.73,533.96 923.44,534.37 924.15,534.52C924.86,534.66 925.58,534.62 926.29,534.43C927,534.23 927.71,533.76 928.43,533.34C929.14,532.91 929.85,532.29 930.56,531.89C931.28,531.48 932.34,531.08 932.7,530.92"/>
</g>
<path d="M939.5,289C938.08,289.13 933.58,289.75 931,289.8C928.42,289.85 926.67,289.6 924,289.3C921.33,289 918,287.55 915,288C912,288.45 909.33,290.33 906,292C902.67,293.67 898,296.75 895,298C892,299.25 891,298.5 888,299.5C885,300.5 880.67,302.3 877,304C873.33,305.7 868.42,307.37 866,309.7C863.58,312.03 863.23,314.62 862.5,318C861.77,321.38 861.75,326.08 861.6,330C861.45,333.92 862.03,338.38 861.6,341.5C861.17,344.62 860.67,345.98 859,348.7C857.33,351.42 854.1,355.08 851.6,357.8C849.1,360.52 847.02,362.3 844,365C840.98,367.7 835.92,370.07 833.5,374C831.08,377.93 830.75,382.6 829.5,388.6C828.25,394.6 827.15,403.1 826,410C824.85,416.9 823.77,425.33 822.6,430C821.43,434.67 819.6,434.67 819,438C818.4,441.33 818.83,446.38 819,450C819.17,453.62 818.83,456.27 820,459.7C821.17,463.13 822,466.72 826,470.6C830,474.48 837.92,479.1 844,483C850.08,486.9 857,491 862.5,494C868,497 873.08,498.57 877,501C880.92,503.43 883.6,505.82 886,508.6C888.4,511.38 890.23,515.3 891.4,517.7C892.57,520.1 892.73,522.12 893,523" fill="none" stroke="#000" stroke-width="2.7" />
<path d="M820,459.7C821,461.52 822,466.72 826,470.6C830,474.48 837.92,479.1 844,483C850.08,486.9 857,491 862.5,494C868,497 873.08,498.57 877,501C880.92,503.43 883.6,505.82 886,508.6C888.4,511.38 890.5,516.18 891.4,517.7" fill="none" stroke="#000" stroke-width="3.6" />
<rect x="936" y="360.3" width="17" height="14.5" fill="#000"/>
<circle cx="944.6" cy="367.3" r="4.9" fill="#fff" stroke="none" stroke-width="0"/>
<line x1="930" y1="361.2" x2="958" y2="361.2" stroke="#000" stroke-width="2.7" />
<line x1="961" y1="360.3" x2="996" y2="360.3" stroke="#000" stroke-width="1.5" />
<line x1="941.3" y1="401.2" x2="996" y2="401.2" stroke="#000" stroke-width="1.5" />
<line x1="1043" y1="360.5" x2="1088.6" y2="360.5" stroke="#000" stroke-width="1.8" />
<line x1="1043" y1="401.2" x2="1089.5" y2="401.2" stroke="#000" stroke-width="1.8" />
<line x1="1068.4" y1="317.8" x2="1068.4" y2="360" stroke="#000" stroke-width="1.6" />
<path d="M1063.9,345 L1068.4,360 L1072.6,345" fill="none" stroke="#000" stroke-width="1.8" />
<path d="M1066,352 L1068.4,360.3 L1070.8,352 Z" fill="#000" stroke="#000" stroke-width="0.8" />
<line x1="1068.4" y1="402" x2="1068.4" y2="444" stroke="#000" stroke-width="1.6" />
<path d="M1064.3,417.8 L1068.4,402.3 L1073.3,417.8" fill="none" stroke="#000" stroke-width="1.8" />
<path d="M1066,410 L1068.4,402 L1070.8,410 Z" fill="#000" stroke="#000" stroke-width="0.8" />
<path d="M618,468.4 L775,468.7 Q805,468 820,463" fill="none" stroke="#000" stroke-width="2.3" />
<path d="M643,468.5 L643,501 C643.5,514 650,524.5 663,525.6 L760,524 L893,523.2" fill="none" stroke="#000" stroke-width="2.5" />
<path d="M715,526 L732.5,553.7 Q736,560.5 744,560.5 L832,560.4 Q838,560.4 841.5,555 L853.7,540.6 L864,524.5" fill="none" stroke="#000" stroke-width="2.3" />
<path d="M756,561 Q757,570 765,570.4 L775,570.5 L777.5,575.2 L807.5,575.2 L810,570.2 L858,569.5" fill="none" stroke="#000" stroke-width="2.6" />
<line x1="774" y1="583.4" x2="810.8" y2="583.4" stroke="#000" stroke-width="6.8" stroke-linecap="round"/>
<line x1="775.3" y1="575" x2="775.3" y2="583" stroke="#000" stroke-width="2.3" />
<line x1="808.7" y1="575" x2="808.7" y2="583" stroke="#000" stroke-width="2.3" />
<path d="M853.7,540.6 C855,548 856,558 858,569 C859.5,574 861,576 864,576.3 L873.5,576.3 C878,575.5 881.5,570 882.4,563" fill="none" stroke="#000" stroke-width="2.3" />
<path d="M867.5,524 L867.5,555 Q868,566 872,572.5" fill="none" stroke="#000" stroke-width="1.3" />
<line x1="882" y1="524" x2="882" y2="535" stroke="#000" stroke-width="2.3" />
<ellipse cx="879.2" cy="549.7" rx="7.9" ry="14.6" fill="#fff" stroke="#000" stroke-width="2.5"/>
<ellipse cx="881.6" cy="549.3" rx="4.4" ry="11.2" fill="#fff" stroke="#000" stroke-width="2.3"/>
<path d="M883.6,541.5 Q885.2,549 883.4,557" fill="none" stroke="#000" stroke-width="2.4" />
<path d="M880.6,543 Q879,549 880.4,555.5" fill="none" stroke="#000" stroke-width="1.1" />
<path d="M775.7,586 L776.7,640 L778,773 Q779,811 806,810.6 L1006.5,812.3 Q1040,812 1040,779 L1038.8,671 L1038.4,589 L1036,485" fill="none" stroke="#000" stroke-width="2.5" />
<path d="M809.1,586 L809.3,640 L810,747 Q810.5,776.3 833,776.3 L985,776.3 Q1007.5,776.3 1007,752 L1004.7,640 L1004.3,581 L1003.4,485 L1002.6,457" fill="none" stroke="#000" stroke-width="2.5" />
<path d="M996.5,231 L997.5,484.5 L1002.5,484.5 L1001.6,231 Z" fill="#fff" stroke="#000" stroke-width="2" />
<path d="M1036.6,231 L1038.6,484.5 L1043.3,484.5 L1041.5,231 Z" fill="#fff" stroke="#000" stroke-width="2" />
<line x1="995.5" y1="231.2" x2="1002.5" y2="231.2" stroke="#000" stroke-width="2.4" />
<line x1="1035.6" y1="231.2" x2="1042.5" y2="231.2" stroke="#000" stroke-width="2.4" />
<line x1="1002" y1="231" x2="1036" y2="231" stroke="#000" stroke-width="1" />
<rect x="1002" y="455.7" width="6" height="6.3" fill="#000"/>
<rect x="1030" y="455.7" width="8" height="6.3" fill="#000"/>
<path d="M1007.3,460 L1008,576" fill="none" stroke="#000" stroke-width="2.1" />
<path d="M1031.2,460 L1031.6,485 L1034.3,564 L1035.5,600 L1038.5,636" fill="none" stroke="#000" stroke-width="2.1" />
<path d="M1036,462 L1036,485" fill="none" stroke="#000" stroke-width="2.3" />
<path d="M1004.3,581.5C1004.75,581 1005.78,579.25 1007,578.5C1008.22,577.75 1009.02,578.02 1011.6,577C1014.18,575.98 1019.48,574.07 1022.5,572.4C1025.52,570.73 1027.65,568.45 1029.7,567C1031.75,565.55 1033.95,564.25 1034.8,563.7" fill="none" stroke="#000" stroke-width="1.8" />
<clipPath id="ctube"><path d="M1002.5,402 L1037.2,402 L1037.8,456 L1030.8,456 L1031.6,485 L1034.8,563.7 L1029.7,567 L1022.5,572.4 L1011.6,577 L1008,579 L1007.6,456 L1002.6,456 Z"/></clipPath>
<g clip-path="url(#ctube)" fill="none" stroke="#000" stroke-width="2.2">
<path d="M998,393.73C998.36,393.49 999.43,392.68 1000.14,392.33C1000.85,391.97 1001.56,391.67 1002.28,391.61C1002.99,391.56 1003.7,391.73 1004.41,392.01C1005.13,392.28 1005.84,392.83 1006.55,393.27C1007.26,393.72 1007.98,394.32 1008.69,394.67C1009.4,395.03 1010.11,395.33 1010.83,395.39C1011.54,395.44 1012.25,395.27 1012.96,394.99C1013.68,394.72 1014.39,394.17 1015.1,393.73C1015.81,393.28 1016.53,392.68 1017.24,392.33C1017.95,391.97 1018.66,391.67 1019.38,391.61C1020.09,391.56 1020.8,391.73 1021.51,392.01C1022.23,392.28 1022.94,392.83 1023.65,393.27C1024.36,393.72 1025.08,394.32 1025.79,394.67C1026.5,395.03 1027.21,395.33 1027.93,395.39C1028.64,395.44 1029.35,395.27 1030.06,394.99C1030.78,394.72 1031.49,394.17 1032.2,393.73C1032.91,393.28 1033.63,392.68 1034.34,392.33C1035.05,391.97 1035.76,391.67 1036.48,391.61C1037.19,391.56 1037.9,391.73 1038.61,392.01C1039.33,392.28 1040.39,393.06 1040.75,393.27"/>
<path d="M998,399.43C998.36,399.19 999.43,398.38 1000.14,398.03C1000.85,397.67 1001.56,397.37 1002.28,397.31C1002.99,397.26 1003.7,397.43 1004.41,397.71C1005.13,397.98 1005.84,398.53 1006.55,398.97C1007.26,399.42 1007.98,400.02 1008.69,400.37C1009.4,400.73 1010.11,401.03 1010.83,401.09C1011.54,401.14 1012.25,400.97 1012.96,400.69C1013.68,400.42 1014.39,399.87 1015.1,399.43C1015.81,398.98 1016.53,398.38 1017.24,398.03C1017.95,397.67 1018.66,397.37 1019.38,397.31C1020.09,397.26 1020.8,397.43 1021.51,397.71C1022.23,397.98 1022.94,398.53 1023.65,398.97C1024.36,399.42 1025.08,400.02 1025.79,400.37C1026.5,400.73 1027.21,401.03 1027.93,401.09C1028.64,401.14 1029.35,400.97 1030.06,400.69C1030.78,400.42 1031.49,399.87 1032.2,399.43C1032.91,398.98 1033.63,398.38 1034.34,398.03C1035.05,397.67 1035.76,397.37 1036.48,397.31C1037.19,397.26 1037.9,397.43 1038.61,397.71C1039.33,397.98 1040.39,398.76 1040.75,398.97"/>
<path d="M998,405.13C998.36,404.89 999.43,404.08 1000.14,403.73C1000.85,403.37 1001.56,403.07 1002.28,403.01C1002.99,402.96 1003.7,403.13 1004.41,403.41C1005.13,403.68 1005.84,404.23 1006.55,404.67C1007.26,405.12 1007.98,405.72 1008.69,406.07C1009.4,406.43 1010.11,406.73 1010.83,406.79C1011.54,406.84 1012.25,406.67 1012.96,406.39C1013.68,406.12 1014.39,405.57 1015.1,405.13C1015.81,404.68 1016.53,404.08 1017.24,403.73C1017.95,403.37 1018.66,403.07 1019.38,403.01C1020.09,402.96 1020.8,403.13 1021.51,403.41C1022.23,403.68 1022.94,404.23 1023.65,404.67C1024.36,405.12 1025.08,405.72 1025.79,406.07C1026.5,406.43 1027.21,406.73 1027.93,406.79C1028.64,406.84 1029.35,406.67 1030.06,406.39C1030.78,406.12 1031.49,405.57 1032.2,405.13C1032.91,404.68 1033.63,404.08 1034.34,403.73C1035.05,403.37 1035.76,403.07 1036.48,403.01C1037.19,402.96 1037.9,403.13 1038.61,403.41C1039.33,403.68 1040.39,404.46 1040.75,404.67"/>
<path d="M998,410.83C998.36,410.59 999.43,409.78 1000.14,409.43C1000.85,409.07 1001.56,408.77 1002.28,408.71C1002.99,408.66 1003.7,408.83 1004.41,409.11C1005.13,409.38 1005.84,409.93 1006.55,410.37C1007.26,410.82 1007.98,411.42 1008.69,411.77C1009.4,412.13 1010.11,412.43 1010.83,412.49C1011.54,412.54 1012.25,412.37 1012.96,412.09C1013.68,411.82 1014.39,411.27 1015.1,410.83C1015.81,410.38 1016.53,409.78 1017.24,409.43C1017.95,409.07 1018.66,408.77 1019.38,408.71C1020.09,408.66 1020.8,408.83 1021.51,409.11C1022.23,409.38 1022.94,409.93 1023.65,410.37C1024.36,410.82 1025.08,411.42 1025.79,411.77C1026.5,412.13 1027.21,412.43 1027.93,412.49C1028.64,412.54 1029.35,412.37 1030.06,412.09C1030.78,411.82 1031.49,411.27 1032.2,410.83C1032.91,410.38 1033.63,409.78 1034.34,409.43C1035.05,409.07 1035.76,408.77 1036.48,408.71C1037.19,408.66 1037.9,408.83 1038.61,409.11C1039.33,409.38 1040.39,410.16 1040.75,410.37"/>
<path d="M998,416.53C998.36,416.29 999.43,415.48 1000.14,415.13C1000.85,414.77 1001.56,414.47 1002.28,414.41C1002.99,414.36 1003.7,414.53 1004.41,414.81C1005.13,415.08 1005.84,415.63 1006.55,416.07C1007.26,416.52 1007.98,417.12 1008.69,417.47C1009.4,417.83 1010.11,418.13 1010.83,418.19C1011.54,418.24 1012.25,418.07 1012.96,417.79C1013.68,417.52 1014.39,416.97 1015.1,416.53C1015.81,416.08 1016.53,415.48 1017.24,415.13C1017.95,414.77 1018.66,414.47 1019.38,414.41C1020.09,414.36 1020.8,414.53 1021.51,414.81C1022.23,415.08 1022.94,415.63 1023.65,416.07C1024.36,416.52 1025.08,417.12 1025.79,417.47C1026.5,417.83 1027.21,418.13 1027.93,418.19C1028.64,418.24 1029.35,418.07 1030.06,417.79C1030.78,417.52 1031.49,416.97 1032.2,416.53C1032.91,416.08 1033.63,415.48 1034.34,415.13C1035.05,414.77 1035.76,414.47 1036.48,414.41C1037.19,414.36 1037.9,414.53 1038.61,414.81C1039.33,415.08 1040.39,415.86 1040.75,416.07"/>
<path d="M998,422.23C998.36,421.99 999.43,421.18 1000.14,420.83C1000.85,420.47 1001.56,420.17 1002.28,420.11C1002.99,420.06 1003.7,420.23 1004.41,420.51C1005.13,420.78 1005.84,421.33 1006.55,421.77C1007.26,422.22 1007.98,422.82 1008.69,423.17C1009.4,423.53 1010.11,423.83 1010.83,423.89C1011.54,423.94 1012.25,423.77 1012.96,423.49C1013.68,423.22 1014.39,422.67 1015.1,422.23C1015.81,421.78 1016.53,421.18 1017.24,420.83C1017.95,420.47 1018.66,420.17 1019.38,420.11C1020.09,420.06 1020.8,420.23 1021.51,420.51C1022.23,420.78 1022.94,421.33 1023.65,421.77C1024.36,422.22 1025.08,422.82 1025.79,423.17C1026.5,423.53 1027.21,423.83 1027.93,423.89C1028.64,423.94 1029.35,423.77 1030.06,423.49C1030.78,423.22 1031.49,422.67 1032.2,422.23C1032.91,421.78 1033.63,421.18 1034.34,420.83C1035.05,420.47 1035.76,420.17 1036.48,420.11C1037.19,420.06 1037.9,420.23 1038.61,420.51C1039.33,420.78 1040.39,421.56 1040.75,421.77"/>
<path d="M998,427.93C998.36,427.69 999.43,426.88 1000.14,426.53C1000.85,426.17 1001.56,425.87 1002.28,425.81C1002.99,425.76 1003.7,425.93 1004.41,426.21C1005.13,426.48 1005.84,427.03 1006.55,427.47C1007.26,427.92 1007.98,428.52 1008.69,428.87C1009.4,429.23 1010.11,429.53 1010.83,429.59C1011.54,429.64 1012.25,429.47 1012.96,429.19C1013.68,428.92 1014.39,428.37 1015.1,427.93C1015.81,427.48 1016.53,426.88 1017.24,426.53C1017.95,426.17 1018.66,425.87 1019.38,425.81C1020.09,425.76 1020.8,425.93 1021.51,426.21C1022.23,426.48 1022.94,427.03 1023.65,427.47C1024.36,427.92 1025.08,428.52 1025.79,428.87C1026.5,429.23 1027.21,429.53 1027.93,429.59C1028.64,429.64 1029.35,429.47 1030.06,429.19C1030.78,428.92 1031.49,428.37 1032.2,427.93C1032.91,427.48 1033.63,426.88 1034.34,426.53C1035.05,426.17 1035.76,425.87 1036.48,425.81C1037.19,425.76 1037.9,425.93 1038.61,426.21C1039.33,426.48 1040.39,427.26 1040.75,427.47"/>
<path d="M998,433.63C998.36,433.39 999.43,432.58 1000.14,432.23C1000.85,431.87 1001.56,431.57 1002.28,431.51C1002.99,431.46 1003.7,431.63 1004.41,431.91C1005.13,432.18 1005.84,432.73 1006.55,433.17C1007.26,433.62 1007.98,434.22 1008.69,434.57C1009.4,434.93 1010.11,435.23 1010.83,435.29C1011.54,435.34 1012.25,435.17 1012.96,434.89C1013.68,434.62 1014.39,434.07 1015.1,433.63C1015.81,433.18 1016.53,432.58 1017.24,432.23C1017.95,431.87 1018.66,431.57 1019.38,431.51C1020.09,431.46 1020.8,431.63 1021.51,431.91C1022.23,432.18 1022.94,432.73 1023.65,433.17C1024.36,433.62 1025.08,434.22 1025.79,434.57C1026.5,434.93 1027.21,435.23 1027.93,435.29C1028.64,435.34 1029.35,435.17 1030.06,434.89C1030.78,434.62 1031.49,434.07 1032.2,433.63C1032.91,433.18 1033.63,432.58 1034.34,432.23C1035.05,431.87 1035.76,431.57 1036.48,431.51C1037.19,431.46 1037.9,431.63 1038.61,431.91C1039.33,432.18 1040.39,432.96 1040.75,433.17"/>
<path d="M998,439.33C998.36,439.09 999.43,438.28 1000.14,437.93C1000.85,437.57 1001.56,437.27 1002.28,437.21C1002.99,437.16 1003.7,437.33 1004.41,437.61C1005.13,437.88 1005.84,438.43 1006.55,438.87C1007.26,439.32 1007.98,439.92 1008.69,440.27C1009.4,440.63 1010.11,440.93 1010.83,440.99C1011.54,441.04 1012.25,440.87 1012.96,440.59C1013.68,440.32 1014.39,439.77 1015.1,439.33C1015.81,438.88 1016.53,438.28 1017.24,437.93C1017.95,437.57 1018.66,437.27 1019.38,437.21C1020.09,437.16 1020.8,437.33 1021.51,437.61C1022.23,437.88 1022.94,438.43 1023.65,438.87C1024.36,439.32 1025.08,439.92 1025.79,440.27C1026.5,440.63 1027.21,440.93 1027.93,440.99C1028.64,441.04 1029.35,440.87 1030.06,440.59C1030.78,440.32 1031.49,439.77 1032.2,439.33C1032.91,438.88 1033.63,438.28 1034.34,437.93C1035.05,437.57 1035.76,437.27 1036.48,437.21C1037.19,437.16 1037.9,437.33 1038.61,437.61C1039.33,437.88 1040.39,438.66 1040.75,438.87"/>
<path d="M998,445.03C998.36,444.79 999.43,443.98 1000.14,443.63C1000.85,443.27 1001.56,442.97 1002.28,442.91C1002.99,442.86 1003.7,443.03 1004.41,443.31C1005.13,443.58 1005.84,444.13 1006.55,444.57C1007.26,445.02 1007.98,445.62 1008.69,445.97C1009.4,446.33 1010.11,446.63 1010.83,446.69C1011.54,446.74 1012.25,446.57 1012.96,446.29C1013.68,446.02 1014.39,445.47 1015.1,445.03C1015.81,444.58 1016.53,443.98 1017.24,443.63C1017.95,443.27 1018.66,442.97 1019.38,442.91C1020.09,442.86 1020.8,443.03 1021.51,443.31C1022.23,443.58 1022.94,444.13 1023.65,444.57C1024.36,445.02 1025.08,445.62 1025.79,445.97C1026.5,446.33 1027.21,446.63 1027.93,446.69C1028.64,446.74 1029.35,446.57 1030.06,446.29C1030.78,446.02 1031.49,445.47 1032.2,445.03C1032.91,444.58 1033.63,443.98 1034.34,443.63C1035.05,443.27 1035.76,442.97 1036.48,442.91C1037.19,442.86 1037.9,443.03 1038.61,443.31C1039.33,443.58 1040.39,444.36 1040.75,444.57"/>
<path d="M998,450.73C998.36,450.49 999.43,449.68 1000.14,449.33C1000.85,448.97 1001.56,448.67 1002.28,448.61C1002.99,448.56 1003.7,448.73 1004.41,449.01C1005.13,449.28 1005.84,449.83 1006.55,450.27C1007.26,450.72 1007.98,451.32 1008.69,451.67C1009.4,452.03 1010.11,452.33 1010.83,452.39C1011.54,452.44 1012.25,452.27 1012.96,451.99C1013.68,451.72 1014.39,451.17 1015.1,450.73C1015.81,450.28 1016.53,449.68 1017.24,449.33C1017.95,448.97 1018.66,448.67 1019.38,448.61C1020.09,448.56 1020.8,448.73 1021.51,449.01C1022.23,449.28 1022.94,449.83 1023.65,450.27C1024.36,450.72 1025.08,451.32 1025.79,451.67C1026.5,452.03 1027.21,452.33 1027.93,452.39C1028.64,452.44 1029.35,452.27 1030.06,451.99C1030.78,451.72 1031.49,451.17 1032.2,450.73C1032.91,450.28 1033.63,449.68 1034.34,449.33C1035.05,448.97 1035.76,448.67 1036.48,448.61C1037.19,448.56 1037.9,448.73 1038.61,449.01C1039.33,449.28 1040.39,450.06 1040.75,450.27"/>
<path d="M998,456.43C998.36,456.19 999.43,455.38 1000.14,455.03C1000.85,454.67 1001.56,454.37 1002.28,454.31C1002.99,454.26 1003.7,454.43 1004.41,454.71C1005.13,454.98 1005.84,455.53 1006.55,455.97C1007.26,456.42 1007.98,457.02 1008.69,457.37C1009.4,457.73 1010.11,458.03 1010.83,458.09C1011.54,458.14 1012.25,457.97 1012.96,457.69C1013.68,457.42 1014.39,456.87 1015.1,456.43C1015.81,455.98 1016.53,455.38 1017.24,455.03C1017.95,454.67 1018.66,454.37 1019.38,454.31C1020.09,454.26 1020.8,454.43 1021.51,454.71C1022.23,454.98 1022.94,455.53 1023.65,455.97C1024.36,456.42 1025.08,457.02 1025.79,457.37C1026.5,457.73 1027.21,458.03 1027.93,458.09C1028.64,458.14 1029.35,457.97 1030.06,457.69C1030.78,457.42 1031.49,456.87 1032.2,456.43C1032.91,455.98 1033.63,455.38 1034.34,455.03C1035.05,454.67 1035.76,454.37 1036.48,454.31C1037.19,454.26 1037.9,454.43 1038.61,454.71C1039.33,454.98 1040.39,455.76 1040.75,455.97"/>
<path d="M998,462.13C998.36,461.89 999.43,461.08 1000.14,460.73C1000.85,460.37 1001.56,460.07 1002.28,460.01C1002.99,459.96 1003.7,460.13 1004.41,460.41C1005.13,460.68 1005.84,461.23 1006.55,461.67C1007.26,462.12 1007.98,462.72 1008.69,463.07C1009.4,463.43 1010.11,463.73 1010.83,463.79C1011.54,463.84 1012.25,463.67 1012.96,463.39C1013.68,463.12 1014.39,462.57 1015.1,462.13C1015.81,461.68 1016.53,461.08 1017.24,460.73C1017.95,460.37 1018.66,460.07 1019.38,460.01C1020.09,459.96 1020.8,460.13 1021.51,460.41C1022.23,460.68 1022.94,461.23 1023.65,461.67C1024.36,462.12 1025.08,462.72 1025.79,463.07C1026.5,463.43 1027.21,463.73 1027.93,463.79C1028.64,463.84 1029.35,463.67 1030.06,463.39C1030.78,463.12 1031.49,462.57 1032.2,462.13C1032.91,461.68 1033.63,461.08 1034.34,460.73C1035.05,460.37 1035.76,460.07 1036.48,460.01C1037.19,459.96 1037.9,460.13 1038.61,460.41C1039.33,460.68 1040.39,461.46 1040.75,461.67"/>
<path d="M998,467.83C998.36,467.59 999.43,466.78 1000.14,466.43C1000.85,466.07 1001.56,465.77 1002.28,465.71C1002.99,465.66 1003.7,465.83 1004.41,466.11C1005.13,466.38 1005.84,466.93 1006.55,467.37C1007.26,467.82 1007.98,468.42 1008.69,468.77C1009.4,469.13 1010.11,469.43 1010.83,469.49C1011.54,469.54 1012.25,469.37 1012.96,469.09C1013.68,468.82 1014.39,468.27 1015.1,467.83C1015.81,467.38 1016.53,466.78 1017.24,466.43C1017.95,466.07 1018.66,465.77 1019.38,465.71C1020.09,465.66 1020.8,465.83 1021.51,466.11C1022.23,466.38 1022.94,466.93 1023.65,467.37C1024.36,467.82 1025.08,468.42 1025.79,468.77C1026.5,469.13 1027.21,469.43 1027.93,469.49C1028.64,469.54 1029.35,469.37 1030.06,469.09C1030.78,468.82 1031.49,468.27 1032.2,467.83C1032.91,467.38 1033.63,466.78 1034.34,466.43C1035.05,466.07 1035.76,465.77 1036.48,465.71C1037.19,465.66 1037.9,465.83 1038.61,466.11C1039.33,466.38 1040.39,467.16 1040.75,467.37"/>
<path d="M998,473.53C998.36,473.29 999.43,472.48 1000.14,472.13C1000.85,471.77 1001.56,471.47 1002.28,471.41C1002.99,471.36 1003.7,471.53 1004.41,471.81C1005.13,472.08 1005.84,472.63 1006.55,473.07C1007.26,473.52 1007.98,474.12 1008.69,474.47C1009.4,474.83 1010.11,475.13 1010.83,475.19C1011.54,475.24 1012.25,475.07 1012.96,474.79C1013.68,474.52 1014.39,473.97 1015.1,473.53C1015.81,473.08 1016.53,472.48 1017.24,472.13C1017.95,471.77 1018.66,471.47 1019.38,471.41C1020.09,471.36 1020.8,471.53 1021.51,471.81C1022.23,472.08 1022.94,472.63 1023.65,473.07C1024.36,473.52 1025.08,474.12 1025.79,474.47C1026.5,474.83 1027.21,475.13 1027.93,475.19C1028.64,475.24 1029.35,475.07 1030.06,474.79C1030.78,474.52 1031.49,473.97 1032.2,473.53C1032.91,473.08 1033.63,472.48 1034.34,472.13C1035.05,471.77 1035.76,471.47 1036.48,471.41C1037.19,471.36 1037.9,471.53 1038.61,471.81C1039.33,472.08 1040.39,472.86 1040.75,473.07"/>
<path d="M998,479.23C998.36,478.99 999.43,478.18 1000.14,477.83C1000.85,477.47 1001.56,477.17 1002.28,477.11C1002.99,477.06 1003.7,477.23 1004.41,477.51C1005.13,477.78 1005.84,478.33 1006.55,478.77C1007.26,479.22 1007.98,479.82 1008.69,480.17C1009.4,480.53 1010.11,480.83 1010.83,480.89C1011.54,480.94 1012.25,480.77 1012.96,480.49C1013.68,480.22 1014.39,479.67 1015.1,479.23C1015.81,478.78 1016.53,478.18 1017.24,477.83C1017.95,477.47 1018.66,477.17 1019.38,477.11C1020.09,477.06 1020.8,477.23 1021.51,477.51C1022.23,477.78 1022.94,478.33 1023.65,478.77C1024.36,479.22 1025.08,479.82 1025.79,480.17C1026.5,480.53 1027.21,480.83 1027.93,480.89C1028.64,480.94 1029.35,480.77 1030.06,480.49C1030.78,480.22 1031.49,479.67 1032.2,479.23C1032.91,478.78 1033.63,478.18 1034.34,477.83C1035.05,477.47 1035.76,477.17 1036.48,477.11C1037.19,477.06 1037.9,477.23 1038.61,477.51C1039.33,477.78 1040.39,478.56 1040.75,478.77"/>
<path d="M998,484.93C998.36,484.69 999.43,483.88 1000.14,483.53C1000.85,483.17 1001.56,482.87 1002.28,482.81C1002.99,482.76 1003.7,482.93 1004.41,483.21C1005.13,483.48 1005.84,484.03 1006.55,484.47C1007.26,484.92 1007.98,485.52 1008.69,485.87C1009.4,486.23 1010.11,486.53 1010.83,486.59C1011.54,486.64 1012.25,486.47 1012.96,486.19C1013.68,485.92 1014.39,485.37 1015.1,484.93C1015.81,484.48 1016.53,483.88 1017.24,483.53C1017.95,483.17 1018.66,482.87 1019.38,482.81C1020.09,482.76 1020.8,482.93 1021.51,483.21C1022.23,483.48 1022.94,484.03 1023.65,484.47C1024.36,484.92 1025.08,485.52 1025.79,485.87C1026.5,486.23 1027.21,486.53 1027.93,486.59C1028.64,486.64 1029.35,486.47 1030.06,486.19C1030.78,485.92 1031.49,485.37 1032.2,484.93C1032.91,484.48 1033.63,483.88 1034.34,483.53C1035.05,483.17 1035.76,482.87 1036.48,482.81C1037.19,482.76 1037.9,482.93 1038.61,483.21C1039.33,483.48 1040.39,484.26 1040.75,484.47"/>
<path d="M998,490.63C998.36,490.39 999.43,489.58 1000.14,489.23C1000.85,488.87 1001.56,488.57 1002.28,488.51C1002.99,488.46 1003.7,488.63 1004.41,488.91C1005.13,489.18 1005.84,489.73 1006.55,490.17C1007.26,490.62 1007.98,491.22 1008.69,491.57C1009.4,491.93 1010.11,492.23 1010.83,492.29C1011.54,492.34 1012.25,492.17 1012.96,491.89C1013.68,491.62 1014.39,491.07 1015.1,490.63C1015.81,490.18 1016.53,489.58 1017.24,489.23C1017.95,488.87 1018.66,488.57 1019.38,488.51C1020.09,488.46 1020.8,488.63 1021.51,488.91C1022.23,489.18 1022.94,489.73 1023.65,490.17C1024.36,490.62 1025.08,491.22 1025.79,491.57C1026.5,491.93 1027.21,492.23 1027.93,492.29C1028.64,492.34 1029.35,492.17 1030.06,491.89C1030.78,491.62 1031.49,491.07 1032.2,490.63C1032.91,490.18 1033.63,489.58 1034.34,489.23C1035.05,488.87 1035.76,488.57 1036.48,488.51C1037.19,488.46 1037.9,488.63 1038.61,488.91C1039.33,489.18 1040.39,489.96 1040.75,490.17"/>
<path d="M998,496.33C998.36,496.09 999.43,495.28 1000.14,494.93C1000.85,494.57 1001.56,494.27 1002.28,494.21C1002.99,494.16 1003.7,494.33 1004.41,494.61C1005.13,494.88 1005.84,495.43 1006.55,495.87C1007.26,496.32 1007.98,496.92 1008.69,497.27C1009.4,497.63 1010.11,497.93 1010.83,497.99C1011.54,498.04 1012.25,497.87 1012.96,497.59C1013.68,497.32 1014.39,496.77 1015.1,496.33C1015.81,495.88 1016.53,495.28 1017.24,494.93C1017.95,494.57 1018.66,494.27 1019.38,494.21C1020.09,494.16 1020.8,494.33 1021.51,494.61C1022.23,494.88 1022.94,495.43 1023.65,495.87C1024.36,496.32 1025.08,496.92 1025.79,497.27C1026.5,497.63 1027.21,497.93 1027.93,497.99C1028.64,498.04 1029.35,497.87 1030.06,497.59C1030.78,497.32 1031.49,496.77 1032.2,496.33C1032.91,495.88 1033.63,495.28 1034.34,494.93C1035.05,494.57 1035.76,494.27 1036.48,494.21C1037.19,494.16 1037.9,494.33 1038.61,494.61C1039.33,494.88 1040.39,495.66 1040.75,495.87"/>
<path d="M998,502.03C998.36,501.79 999.43,500.98 1000.14,500.63C1000.85,500.27 1001.56,499.97 1002.28,499.91C1002.99,499.86 1003.7,500.03 1004.41,500.31C1005.13,500.58 1005.84,501.13 1006.55,501.57C1007.26,502.02 1007.98,502.62 1008.69,502.97C1009.4,503.33 1010.11,503.63 1010.83,503.69C1011.54,503.74 1012.25,503.57 1012.96,503.29C1013.68,503.02 1014.39,502.47 1015.1,502.03C1015.81,501.58 1016.53,500.98 1017.24,500.63C1017.95,500.27 1018.66,499.97 1019.38,499.91C1020.09,499.86 1020.8,500.03 1021.51,500.31C1022.23,500.58 1022.94,501.13 1023.65,501.57C1024.36,502.02 1025.08,502.62 1025.79,502.97C1026.5,503.33 1027.21,503.63 1027.93,503.69C1028.64,503.74 1029.35,503.57 1030.06,503.29C1030.78,503.02 1031.49,502.47 1032.2,502.03C1032.91,501.58 1033.63,500.98 1034.34,500.63C1035.05,500.27 1035.76,499.97 1036.48,499.91C1037.19,499.86 1037.9,500.03 1038.61,500.31C1039.33,500.58 1040.39,501.36 1040.75,501.57"/>
<path d="M998,507.73C998.36,507.49 999.43,506.68 1000.14,506.33C1000.85,505.97 1001.56,505.67 1002.28,505.61C1002.99,505.56 1003.7,505.73 1004.41,506.01C1005.13,506.28 1005.84,506.83 1006.55,507.27C1007.26,507.72 1007.98,508.32 1008.69,508.67C1009.4,509.03 1010.11,509.33 1010.83,509.39C1011.54,509.44 1012.25,509.27 1012.96,508.99C1013.68,508.72 1014.39,508.17 1015.1,507.73C1015.81,507.28 1016.53,506.68 1017.24,506.33C1017.95,505.97 1018.66,505.67 1019.38,505.61C1020.09,505.56 1020.8,505.73 1021.51,506.01C1022.23,506.28 1022.94,506.83 1023.65,507.27C1024.36,507.72 1025.08,508.32 1025.79,508.67C1026.5,509.03 1027.21,509.33 1027.93,509.39C1028.64,509.44 1029.35,509.27 1030.06,508.99C1030.78,508.72 1031.49,508.17 1032.2,507.73C1032.91,507.28 1033.63,506.68 1034.34,506.33C1035.05,505.97 1035.76,505.67 1036.48,505.61C1037.19,505.56 1037.9,505.73 1038.61,506.01C1039.33,506.28 1040.39,507.06 1040.75,507.27"/>
<path d="M998,513.43C998.36,513.19 999.43,512.38 1000.14,512.03C1000.85,511.67 1001.56,511.37 1002.28,511.31C1002.99,511.26 1003.7,511.43 1004.41,511.71C1005.13,511.98 1005.84,512.53 1006.55,512.97C1007.26,513.42 1007.98,514.02 1008.69,514.37C1009.4,514.73 1010.11,515.03 1010.83,515.09C1011.54,515.14 1012.25,514.97 1012.96,514.69C1013.68,514.42 1014.39,513.87 1015.1,513.43C1015.81,512.98 1016.53,512.38 1017.24,512.03C1017.95,511.67 1018.66,511.37 1019.38,511.31C1020.09,511.26 1020.8,511.43 1021.51,511.71C1022.23,511.98 1022.94,512.53 1023.65,512.97C1024.36,513.42 1025.08,514.02 1025.79,514.37C1026.5,514.73 1027.21,515.03 1027.93,515.09C1028.64,515.14 1029.35,514.97 1030.06,514.69C1030.78,514.42 1031.49,513.87 1032.2,513.43C1032.91,512.98 1033.63,512.38 1034.34,512.03C1035.05,511.67 1035.76,511.37 1036.48,511.31C1037.19,511.26 1037.9,511.43 1038.61,511.71C1039.33,511.98 1040.39,512.76 1040.75,512.97"/>
<path d="M998,519.13C998.36,518.89 999.43,518.08 1000.14,517.73C1000.85,517.37 1001.56,517.07 1002.28,517.01C1002.99,516.96 1003.7,517.13 1004.41,517.41C1005.13,517.68 1005.84,518.23 1006.55,518.67C1007.26,519.12 1007.98,519.72 1008.69,520.07C1009.4,520.43 1010.11,520.73 1010.83,520.79C1011.54,520.84 1012.25,520.67 1012.96,520.39C1013.68,520.12 1014.39,519.57 1015.1,519.13C1015.81,518.68 1016.53,518.08 1017.24,517.73C1017.95,517.37 1018.66,517.07 1019.38,517.01C1020.09,516.96 1020.8,517.13 1021.51,517.41C1022.23,517.68 1022.94,518.23 1023.65,518.67C1024.36,519.12 1025.08,519.72 1025.79,520.07C1026.5,520.43 1027.21,520.73 1027.93,520.79C1028.64,520.84 1029.35,520.67 1030.06,520.39C1030.78,520.12 1031.49,519.57 1032.2,519.13C1032.91,518.68 1033.63,518.08 1034.34,517.73C1035.05,517.37 1035.76,517.07 1036.48,517.01C1037.19,516.96 1037.9,517.13 1038.61,517.41C1039.33,517.68 1040.39,518.46 1040.75,518.67"/>
<path d="M998,524.83C998.36,524.59 999.43,523.78 1000.14,523.43C1000.85,523.07 1001.56,522.77 1002.28,522.71C1002.99,522.66 1003.7,522.83 1004.41,523.11C1005.13,523.38 1005.84,523.93 1006.55,524.37C1007.26,524.82 1007.98,525.42 1008.69,525.77C1009.4,526.13 1010.11,526.43 1010.83,526.49C1011.54,526.54 1012.25,526.37 1012.96,526.09C1013.68,525.82 1014.39,525.27 1015.1,524.83C1015.81,524.38 1016.53,523.78 1017.24,523.43C1017.95,523.07 1018.66,522.77 1019.38,522.71C1020.09,522.66 1020.8,522.83 1021.51,523.11C1022.23,523.38 1022.94,523.93 1023.65,524.37C1024.36,524.82 1025.08,525.42 1025.79,525.77C1026.5,526.13 1027.21,526.43 1027.93,526.49C1028.64,526.54 1029.35,526.37 1030.06,526.09C1030.78,525.82 1031.49,525.27 1032.2,524.83C1032.91,524.38 1033.63,523.78 1034.34,523.43C1035.05,523.07 1035.76,522.77 1036.48,522.71C1037.19,522.66 1037.9,522.83 1038.61,523.11C1039.33,523.38 1040.39,524.16 1040.75,524.37"/>
<path d="M998,530.53C998.36,530.29 999.43,529.48 1000.14,529.13C1000.85,528.77 1001.56,528.47 1002.28,528.41C1002.99,528.36 1003.7,528.53 1004.41,528.81C1005.13,529.08 1005.84,529.63 1006.55,530.07C1007.26,530.52 1007.98,531.12 1008.69,531.47C1009.4,531.83 1010.11,532.13 1010.83,532.19C1011.54,532.24 1012.25,532.07 1012.96,531.79C1013.68,531.52 1014.39,530.97 1015.1,530.53C1015.81,530.08 1016.53,529.48 1017.24,529.13C1017.95,528.77 1018.66,528.47 1019.38,528.41C1020.09,528.36 1020.8,528.53 1021.51,528.81C1022.23,529.08 1022.94,529.63 1023.65,530.07C1024.36,530.52 1025.08,531.12 1025.79,531.47C1026.5,531.83 1027.21,532.13 1027.93,532.19C1028.64,532.24 1029.35,532.07 1030.06,531.79C1030.78,531.52 1031.49,530.97 1032.2,530.53C1032.91,530.08 1033.63,529.48 1034.34,529.13C1035.05,528.77 1035.76,528.47 1036.48,528.41C1037.19,528.36 1037.9,528.53 1038.61,528.81C1039.33,529.08 1040.39,529.86 1040.75,530.07"/>
<path d="M998,536.23C998.36,535.99 999.43,535.18 1000.14,534.83C1000.85,534.47 1001.56,534.17 1002.28,534.11C1002.99,534.06 1003.7,534.23 1004.41,534.51C1005.13,534.78 1005.84,535.33 1006.55,535.77C1007.26,536.22 1007.98,536.82 1008.69,537.17C1009.4,537.53 1010.11,537.83 1010.83,537.89C1011.54,537.94 1012.25,537.77 1012.96,537.49C1013.68,537.22 1014.39,536.67 1015.1,536.23C1015.81,535.78 1016.53,535.18 1017.24,534.83C1017.95,534.47 1018.66,534.17 1019.38,534.11C1020.09,534.06 1020.8,534.23 1021.51,534.51C1022.23,534.78 1022.94,535.33 1023.65,535.77C1024.36,536.22 1025.08,536.82 1025.79,537.17C1026.5,537.53 1027.21,537.83 1027.93,537.89C1028.64,537.94 1029.35,537.77 1030.06,537.49C1030.78,537.22 1031.49,536.67 1032.2,536.23C1032.91,535.78 1033.63,535.18 1034.34,534.83C1035.05,534.47 1035.76,534.17 1036.48,534.11C1037.19,534.06 1037.9,534.23 1038.61,534.51C1039.33,534.78 1040.39,535.56 1040.75,535.77"/>
<path d="M998,541.93C998.36,541.69 999.43,540.88 1000.14,540.53C1000.85,540.17 1001.56,539.87 1002.28,539.81C1002.99,539.76 1003.7,539.93 1004.41,540.21C1005.13,540.48 1005.84,541.03 1006.55,541.47C1007.26,541.92 1007.98,542.52 1008.69,542.87C1009.4,543.23 1010.11,543.53 1010.83,543.59C1011.54,543.64 1012.25,543.47 1012.96,543.19C1013.68,542.92 1014.39,542.37 1015.1,541.93C1015.81,541.48 1016.53,540.88 1017.24,540.53C1017.95,540.17 1018.66,539.87 1019.38,539.81C1020.09,539.76 1020.8,539.93 1021.51,540.21C1022.23,540.48 1022.94,541.03 1023.65,541.47C1024.36,541.92 1025.08,542.52 1025.79,542.87C1026.5,543.23 1027.21,543.53 1027.93,543.59C1028.64,543.64 1029.35,543.47 1030.06,543.19C1030.78,542.92 1031.49,542.37 1032.2,541.93C1032.91,541.48 1033.63,540.88 1034.34,540.53C1035.05,540.17 1035.76,539.87 1036.48,539.81C1037.19,539.76 1037.9,539.93 1038.61,540.21C1039.33,540.48 1040.39,541.26 1040.75,541.47"/>
<path d="M998,547.63C998.36,547.39 999.43,546.58 1000.14,546.23C1000.85,545.87 1001.56,545.57 1002.28,545.51C1002.99,545.46 1003.7,545.63 1004.41,545.91C1005.13,546.18 1005.84,546.73 1006.55,547.17C1007.26,547.62 1007.98,548.22 1008.69,548.57C1009.4,548.93 1010.11,549.23 1010.83,549.29C1011.54,549.34 1012.25,549.17 1012.96,548.89C1013.68,548.62 1014.39,548.07 1015.1,547.63C1015.81,547.18 1016.53,546.58 1017.24,546.23C1017.95,545.87 1018.66,545.57 1019.38,545.51C1020.09,545.46 1020.8,545.63 1021.51,545.91C1022.23,546.18 1022.94,546.73 1023.65,547.17C1024.36,547.62 1025.08,548.22 1025.79,548.57C1026.5,548.93 1027.21,549.23 1027.93,549.29C1028.64,549.34 1029.35,549.17 1030.06,548.89C1030.78,548.62 1031.49,548.07 1032.2,547.63C1032.91,547.18 1033.63,546.58 1034.34,546.23C1035.05,545.87 1035.76,545.57 1036.48,545.51C1037.19,545.46 1037.9,545.63 1038.61,545.91C1039.33,546.18 1040.39,546.96 1040.75,547.17"/>
<path d="M998,553.33C998.36,553.09 999.43,552.28 1000.14,551.93C1000.85,551.57 1001.56,551.27 1002.28,551.21C1002.99,551.16 1003.7,551.33 1004.41,551.61C1005.13,551.88 1005.84,552.43 1006.55,552.87C1007.26,553.32 1007.98,553.92 1008.69,554.27C1009.4,554.63 1010.11,554.93 1010.83,554.99C1011.54,555.04 1012.25,554.87 1012.96,554.59C1013.68,554.32 1014.39,553.77 1015.1,553.33C1015.81,552.88 1016.53,552.28 1017.24,551.93C1017.95,551.57 1018.66,551.27 1019.38,551.21C1020.09,551.16 1020.8,551.33 1021.51,551.61C1022.23,551.88 1022.94,552.43 1023.65,552.87C1024.36,553.32 1025.08,553.92 1025.79,554.27C1026.5,554.63 1027.21,554.93 1027.93,554.99C1028.64,555.04 1029.35,554.87 1030.06,554.59C1030.78,554.32 1031.49,553.77 1032.2,553.33C1032.91,552.88 1033.63,552.28 1034.34,551.93C1035.05,551.57 1035.76,551.27 1036.48,551.21C1037.19,551.16 1037.9,551.33 1038.61,551.61C1039.33,551.88 1040.39,552.66 1040.75,552.87"/>
<path d="M998,559.03C998.36,558.79 999.43,557.98 1000.14,557.63C1000.85,557.27 1001.56,556.97 1002.28,556.91C1002.99,556.86 1003.7,557.03 1004.41,557.31C1005.13,557.58 1005.84,558.13 1006.55,558.57C1007.26,559.02 1007.98,559.62 1008.69,559.97C1009.4,560.33 1010.11,560.63 1010.83,560.69C1011.54,560.74 1012.25,560.57 1012.96,560.29C1013.68,560.02 1014.39,559.47 1015.1,559.03C1015.81,558.58 1016.53,557.98 1017.24,557.63C1017.95,557.27 1018.66,556.97 1019.38,556.91C1020.09,556.86 1020.8,557.03 1021.51,557.31C1022.23,557.58 1022.94,558.13 1023.65,558.57C1024.36,559.02 1025.08,559.62 1025.79,559.97C1026.5,560.33 1027.21,560.63 1027.93,560.69C1028.64,560.74 1029.35,560.57 1030.06,560.29C1030.78,560.02 1031.49,559.47 1032.2,559.03C1032.91,558.58 1033.63,557.98 1034.34,557.63C1035.05,557.27 1035.76,556.97 1036.48,556.91C1037.19,556.86 1037.9,557.03 1038.61,557.31C1039.33,557.58 1040.39,558.36 1040.75,558.57"/>
<path d="M998,564.73C998.36,564.49 999.43,563.68 1000.14,563.33C1000.85,562.97 1001.56,562.67 1002.28,562.61C1002.99,562.56 1003.7,562.73 1004.41,563.01C1005.13,563.28 1005.84,563.83 1006.55,564.27C1007.26,564.72 1007.98,565.32 1008.69,565.67C1009.4,566.03 1010.11,566.33 1010.83,566.39C1011.54,566.44 1012.25,566.27 1012.96,565.99C1013.68,565.72 1014.39,565.17 1015.1,564.73C1015.81,564.28 1016.53,563.68 1017.24,563.33C1017.95,562.97 1018.66,562.67 1019.38,562.61C1020.09,562.56 1020.8,562.73 1021.51,563.01C1022.23,563.28 1022.94,563.83 1023.65,564.27C1024.36,564.72 1025.08,565.32 1025.79,565.67C1026.5,566.03 1027.21,566.33 1027.93,566.39C1028.64,566.44 1029.35,566.27 1030.06,565.99C1030.78,565.72 1031.49,565.17 1032.2,564.73C1032.91,564.28 1033.63,563.68 1034.34,563.33C1035.05,562.97 1035.76,562.67 1036.48,562.61C1037.19,562.56 1037.9,562.73 1038.61,563.01C1039.33,563.28 1040.39,564.06 1040.75,564.27"/>
<path d="M998,570.43C998.36,570.19 999.43,569.38 1000.14,569.03C1000.85,568.67 1001.56,568.37 1002.28,568.31C1002.99,568.26 1003.7,568.43 1004.41,568.71C1005.13,568.98 1005.84,569.53 1006.55,569.97C1007.26,570.42 1007.98,571.02 1008.69,571.37C1009.4,571.73 1010.11,572.03 1010.83,572.09C1011.54,572.14 1012.25,571.97 1012.96,571.69C1013.68,571.42 1014.39,570.87 1015.1,570.43C1015.81,569.98 1016.53,569.38 1017.24,569.03C1017.95,568.67 1018.66,568.37 1019.38,568.31C1020.09,568.26 1020.8,568.43 1021.51,568.71C1022.23,568.98 1022.94,569.53 1023.65,569.97C1024.36,570.42 1025.08,571.02 1025.79,571.37C1026.5,571.73 1027.21,572.03 1027.93,572.09C1028.64,572.14 1029.35,571.97 1030.06,571.69C1030.78,571.42 1031.49,570.87 1032.2,570.43C1032.91,569.98 1033.63,569.38 1034.34,569.03C1035.05,568.67 1035.76,568.37 1036.48,568.31C1037.19,568.26 1037.9,568.43 1038.61,568.71C1039.33,568.98 1040.39,569.76 1040.75,569.97"/>
<path d="M998,576.13C998.36,575.89 999.43,575.08 1000.14,574.73C1000.85,574.37 1001.56,574.07 1002.28,574.01C1002.99,573.96 1003.7,574.13 1004.41,574.41C1005.13,574.68 1005.84,575.23 1006.55,575.67C1007.26,576.12 1007.98,576.72 1008.69,577.07C1009.4,577.43 1010.11,577.73 1010.83,577.79C1011.54,577.84 1012.25,577.67 1012.96,577.39C1013.68,577.12 1014.39,576.57 1015.1,576.13C1015.81,575.68 1016.53,575.08 1017.24,574.73C1017.95,574.37 1018.66,574.07 1019.38,574.01C1020.09,573.96 1020.8,574.13 1021.51,574.41C1022.23,574.68 1022.94,575.23 1023.65,575.67C1024.36,576.12 1025.08,576.72 1025.79,577.07C1026.5,577.43 1027.21,577.73 1027.93,577.79C1028.64,577.84 1029.35,577.67 1030.06,577.39C1030.78,577.12 1031.49,576.57 1032.2,576.13C1032.91,575.68 1033.63,575.08 1034.34,574.73C1035.05,574.37 1035.76,574.07 1036.48,574.01C1037.19,573.96 1037.9,574.13 1038.61,574.41C1039.33,574.68 1040.39,575.46 1040.75,575.67"/>
<path d="M998,581.83C998.36,581.59 999.43,580.78 1000.14,580.43C1000.85,580.07 1001.56,579.77 1002.28,579.71C1002.99,579.66 1003.7,579.83 1004.41,580.11C1005.13,580.38 1005.84,580.93 1006.55,581.37C1007.26,581.82 1007.98,582.42 1008.69,582.77C1009.4,583.13 1010.11,583.43 1010.83,583.49C1011.54,583.54 1012.25,583.37 1012.96,583.09C1013.68,582.82 1014.39,582.27 1015.1,581.83C1015.81,581.38 1016.53,580.78 1017.24,580.43C1017.95,580.07 1018.66,579.77 1019.38,579.71C1020.09,579.66 1020.8,579.83 1021.51,580.11C1022.23,580.38 1022.94,580.93 1023.65,581.37C1024.36,581.82 1025.08,582.42 1025.79,582.77C1026.5,583.13 1027.21,583.43 1027.93,583.49C1028.64,583.54 1029.35,583.37 1030.06,583.09C1030.78,582.82 1031.49,582.27 1032.2,581.83C1032.91,581.38 1033.63,580.78 1034.34,580.43C1035.05,580.07 1035.76,579.77 1036.48,579.71C1037.19,579.66 1037.9,579.83 1038.61,580.11C1039.33,580.38 1040.39,581.16 1040.75,581.37"/>
<path d="M998,587.53C998.36,587.29 999.43,586.48 1000.14,586.13C1000.85,585.77 1001.56,585.47 1002.28,585.41C1002.99,585.36 1003.7,585.53 1004.41,585.81C1005.13,586.08 1005.84,586.63 1006.55,587.07C1007.26,587.52 1007.98,588.12 1008.69,588.47C1009.4,588.83 1010.11,589.13 1010.83,589.19C1011.54,589.24 1012.25,589.07 1012.96,588.79C1013.68,588.52 1014.39,587.97 1015.1,587.53C1015.81,587.08 1016.53,586.48 1017.24,586.13C1017.95,585.77 1018.66,585.47 1019.38,585.41C1020.09,585.36 1020.8,585.53 1021.51,585.81C1022.23,586.08 1022.94,586.63 1023.65,587.07C1024.36,587.52 1025.08,588.12 1025.79,588.47C1026.5,588.83 1027.21,589.13 1027.93,589.19C1028.64,589.24 1029.35,589.07 1030.06,588.79C1030.78,588.52 1031.49,587.97 1032.2,587.53C1032.91,587.08 1033.63,586.48 1034.34,586.13C1035.05,585.77 1035.76,585.47 1036.48,585.41C1037.19,585.36 1037.9,585.53 1038.61,585.81C1039.33,586.08 1040.39,586.86 1040.75,587.07"/>
<path d="M998,593.23C998.36,592.99 999.43,592.18 1000.14,591.83C1000.85,591.47 1001.56,591.17 1002.28,591.11C1002.99,591.06 1003.7,591.23 1004.41,591.51C1005.13,591.78 1005.84,592.33 1006.55,592.77C1007.26,593.22 1007.98,593.82 1008.69,594.17C1009.4,594.53 1010.11,594.83 1010.83,594.89C1011.54,594.94 1012.25,594.77 1012.96,594.49C1013.68,594.22 1014.39,593.67 1015.1,593.23C1015.81,592.78 1016.53,592.18 1017.24,591.83C1017.95,591.47 1018.66,591.17 1019.38,591.11C1020.09,591.06 1020.8,591.23 1021.51,591.51C1022.23,591.78 1022.94,592.33 1023.65,592.77C1024.36,593.22 1025.08,593.82 1025.79,594.17C1026.5,594.53 1027.21,594.83 1027.93,594.89C1028.64,594.94 1029.35,594.77 1030.06,594.49C1030.78,594.22 1031.49,593.67 1032.2,593.23C1032.91,592.78 1033.63,592.18 1034.34,591.83C1035.05,591.47 1035.76,591.17 1036.48,591.11C1037.19,591.06 1037.9,591.23 1038.61,591.51C1039.33,591.78 1040.39,592.56 1040.75,592.77"/>
</g>
<line x1="873.5" y1="595" x2="873.5" y2="765" stroke="#ED1C24" stroke-width="5" stroke-linecap="round"/>
<line x1="873.5" y1="835" x2="873.5" y2="910.5" stroke="#ED1C24" stroke-width="5" stroke-linecap="round"/>
<path d="M860.7,631.8 L873.6,595.5 L886.3,632" fill="none" stroke="#ED1C24" stroke-width="5" stroke-linecap="round" stroke-linejoin="round"/>
</g>
<g id="texts">
<text x="615.6" y="39.3" font-family="'Liberation Sans', sans-serif" font-size="20.5" font-weight="bold" font-style="normal" fill="#000" text-anchor="start" textLength="296.5" lengthAdjust="spacingAndGlyphs" stroke="#000" stroke-width="0.4">Service Fuel Level Measurement</text>
<rect x="1061" y="18.8" width="74.5" height="31.2" rx="15.6" ry="15.6" fill="#fff" stroke="#000" stroke-width="1.7"/>
<text x="1075.5" y="45.4" font-family="'Liberation Sans', sans-serif" font-size="30" font-weight="normal" font-style="normal" fill="#000" text-anchor="start" textLength="47.5" lengthAdjust="spacingAndGlyphs" stroke="#000" stroke-width="0.5">H18</text>
<text x="1052.4" y="259.8" font-family="'Liberation Sans', sans-serif" font-size="20" font-weight="normal" font-style="normal" fill="#000" text-anchor="start" textLength="65" lengthAdjust="spacingAndGlyphs" stroke="#000" stroke-width="0.35">Service</text>
<text x="1053.5" y="284.8" font-family="'Liberation Sans', sans-serif" font-size="20" font-weight="normal" font-style="normal" fill="#000" text-anchor="start" textLength="36.5" lengthAdjust="spacingAndGlyphs" stroke="#000" stroke-width="0.35">Fuel</text>
<text x="1053.5" y="310" font-family="'Liberation Sans', sans-serif" font-size="20" font-weight="normal" font-style="normal" fill="#000" text-anchor="start" textLength="45.5" lengthAdjust="spacingAndGlyphs" stroke="#000" stroke-width="0.35">Level</text>
<text x="32" y="661.2" font-family="'Liberation Sans', sans-serif" font-size="21" font-weight="normal" font-style="normal" fill="#000" text-anchor="start" stroke="#000" stroke-width="0.35">1.</text>
<text x="58.7" y="661.2" font-family="'Liberation Sans', sans-serif" font-size="21" font-weight="normal" font-style="normal" fill="#000" text-anchor="start" textLength="96.3" lengthAdjust="spacingAndGlyphs" stroke="#000" stroke-width="0.35">Valve Seat</text>
<text x="31.5" y="686.3" font-family="'Liberation Sans', sans-serif" font-size="21" font-weight="normal" font-style="normal" fill="#000" text-anchor="start" stroke="#000" stroke-width="0.35">2.</text>
<text x="58.7" y="686.3" font-family="'Liberation Sans', sans-serif" font-size="21" font-weight="normal" font-style="normal" fill="#000" text-anchor="start" textLength="119.3" lengthAdjust="spacingAndGlyphs" stroke="#000" stroke-width="0.35">Valve Needle</text>
<text x="31.5" y="711.3" font-family="'Liberation Sans', sans-serif" font-size="21" font-weight="normal" font-style="normal" fill="#000" text-anchor="start" stroke="#000" stroke-width="0.35">3.</text>
<text x="60" y="711.3" font-family="'Liberation Sans', sans-serif" font-size="21" font-weight="normal" font-style="normal" fill="#000" text-anchor="start" textLength="81.3" lengthAdjust="spacingAndGlyphs" stroke="#000" stroke-width="0.35">Float Pin</text>
<text x="380.3" y="635.4" font-family="'Liberation Sans', sans-serif" font-size="21" font-weight="normal" font-style="normal" fill="#000" text-anchor="start" stroke="#000" stroke-width="0.35">4.</text>
<text x="408" y="635.4" font-family="'Liberation Sans', sans-serif" font-size="21" font-weight="normal" font-style="normal" fill="#000" text-anchor="start" textLength="129" lengthAdjust="spacingAndGlyphs" stroke="#000" stroke-width="0.35">Overflow Pipe</text>
<text x="380.3" y="660.2" font-family="'Liberation Sans', sans-serif" font-size="21" font-weight="normal" font-style="normal" fill="#000" text-anchor="start" stroke="#000" stroke-width="0.35">5.</text>
<text x="409.3" y="660.2" font-family="'Liberation Sans', sans-serif" font-size="21" font-weight="normal" font-style="normal" fill="#000" text-anchor="start" textLength="47.2" lengthAdjust="spacingAndGlyphs" stroke="#000" stroke-width="0.35">Float</text>
<text x="380.3" y="685.4" font-family="'Liberation Sans', sans-serif" font-size="21" font-weight="normal" font-style="normal" fill="#000" text-anchor="start" stroke="#000" stroke-width="0.35">6.</text>
<text x="409.3" y="685.4" font-family="'Liberation Sans', sans-serif" font-size="21" font-weight="normal" font-style="normal" fill="#000" text-anchor="start" textLength="135.1" lengthAdjust="spacingAndGlyphs" stroke="#000" stroke-width="0.35">Float Chamber</text>
<text x="380.3" y="710.8" font-family="'Liberation Sans', sans-serif" font-size="21" font-weight="normal" font-style="normal" fill="#000" text-anchor="start" stroke="#000" stroke-width="0.35">7.</text>
<text x="408" y="710.8" font-family="'Liberation Sans', sans-serif" font-size="21" font-weight="normal" font-style="normal" fill="#000" text-anchor="start" textLength="136.4" lengthAdjust="spacingAndGlyphs" stroke="#000" stroke-width="0.35">Overflow Tube</text>
<text x="29.7" y="810.2" font-family="'Liberation Sans', sans-serif" font-size="22.6" font-weight="normal" font-style="italic" fill="#000" text-anchor="start" textLength="500.5" lengthAdjust="spacingAndGlyphs" stroke="#000" stroke-width="0.3">Service fuel level measurement and adjustment</text>
<text x="57.8" y="838" font-family="'Liberation Sans', sans-serif" font-size="21.2" font-weight="normal" font-style="normal" fill="#000" text-anchor="start" stroke="#000" stroke-width="0.35">If</text>
<text x="87.4" y="838" font-family="'Liberation Sans', sans-serif" font-size="21.2" font-weight="normal" font-style="normal" fill="#000" text-anchor="start" stroke="#000" stroke-width="0.35">the</text>
<text x="130" y="838" font-family="'Liberation Sans', sans-serif" font-size="21.2" font-weight="normal" font-style="normal" fill="#000" text-anchor="start" stroke="#000" stroke-width="0.35">motorcycle</text>
<text x="246" y="838" font-family="'Liberation Sans', sans-serif" font-size="21.2" font-weight="normal" font-style="normal" fill="#000" text-anchor="start" stroke="#000" stroke-width="0.35">exhibits</text>
<text x="331.3" y="838" font-family="'Liberation Sans', sans-serif" font-size="21.2" font-weight="normal" font-style="normal" fill="#000" text-anchor="start" stroke="#000" stroke-width="0.35">symptoms</text>
<text x="438.8" y="838" font-family="'Liberation Sans', sans-serif" font-size="21.2" font-weight="normal" font-style="normal" fill="#000" text-anchor="start" stroke="#000" stroke-width="0.35">of</text>
<text x="470.2" y="838" font-family="'Liberation Sans', sans-serif" font-size="21.2" font-weight="normal" font-style="normal" fill="#000" text-anchor="start" stroke="#000" stroke-width="0.35">improper</text>
<text x="407.4" y="975.5" font-family="'DejaVu Sans', sans-serif" font-size="38" font-weight="bold" font-style="normal" fill="#ED1C24" text-anchor="start" textLength="688.3" lengthAdjust="spacingAndGlyphs" >Drain screw is open 1~2 turns</text>
</g>
</svg>
</body></html>
